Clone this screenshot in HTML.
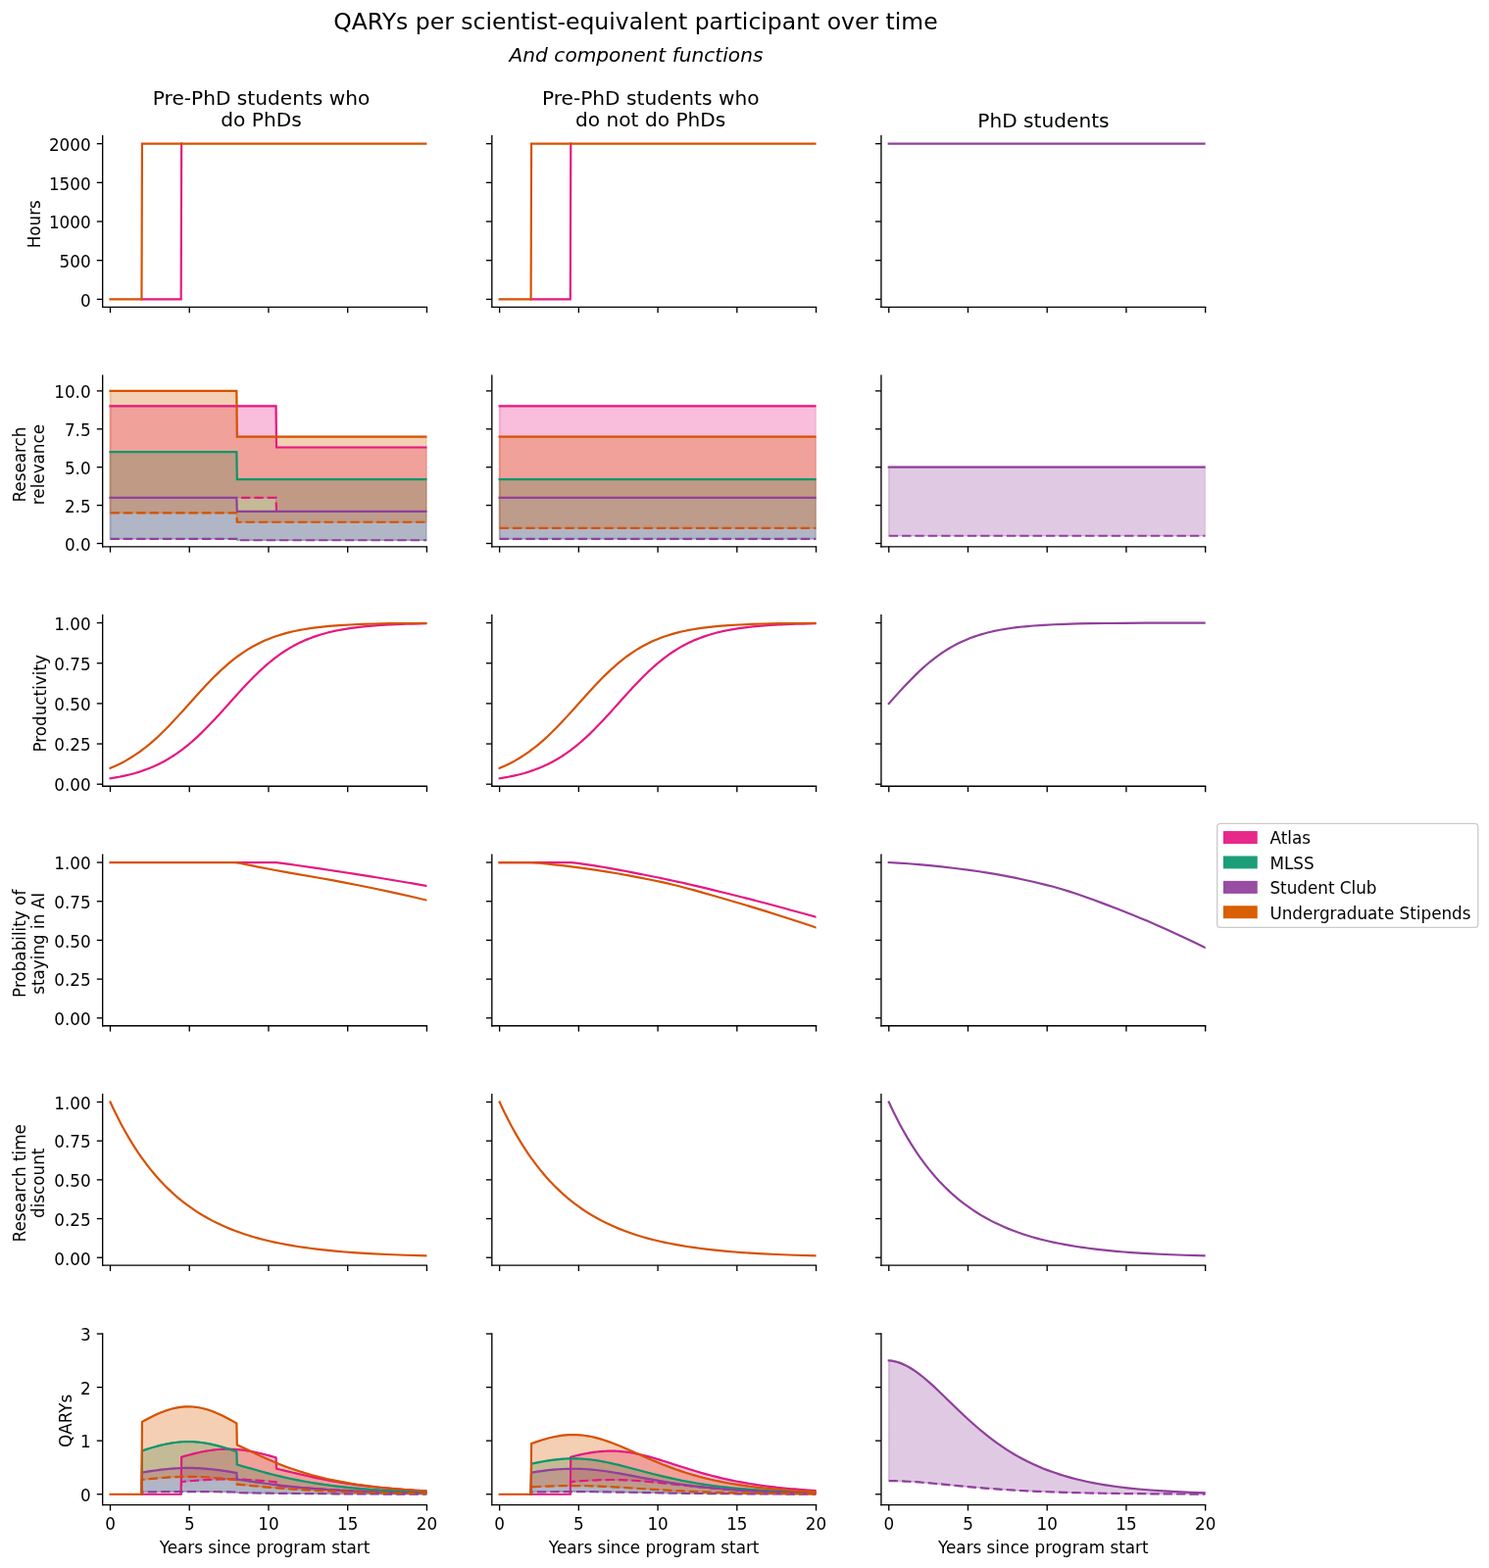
<!DOCTYPE html>
<html lang="en">
<head>
<meta charset="utf-8">
<title>QARYs per scientist-equivalent participant over time</title>
<style>
html, body { margin: 0; padding: 0; background: #ffffff; }
body { width: 1519px; height: 1600px; overflow: hidden; }
svg { display: block; }
text { font-family: "DejaVu Sans", "Liberation Sans", sans-serif; fill: #000000; }
text.a { font-size: 16.799px; }
text.b { font-size: 20.158px; }
text.c { font-size: 23.518px; }
text.i { font-style: italic; }
text.m { text-anchor: middle; }
text.e { text-anchor: end; }
</style>
</head>
<body>
<svg width="1519" height="1600" viewBox="0 0 1519 1600">
<g id="plots" transform="scale(1.679861)">

<g id="figure_1">
<g id="patch_1">
<path d="M 0 952.46 L 904.24 952.46 L 904.24 0 L 0 0 L 0 952.46 z" style="fill: none"/>
</g>
<g id="axes_1">
<g id="patch_2">
<path d="M 62.31 186.52 L 259.2 186.52 L 259.2 82.58 L 62.31 82.58 L 62.31 186.52 z" style="fill: none"/>
</g>
<g id="matplotlib.axis_1">
<g id="xtick_1">
<g id="line2d_1">
<defs>
<path id="m1504cfccaf" d="M 0 0 L 0 3.5" style="stroke: #000000; stroke-width: 0.8"/>
</defs>
<g>
<use href="#m1504cfccaf" x="66.97" y="186.521" style="stroke: #000000; stroke-width: 0.8"/>
</g>
</g>
</g>
<g id="xtick_2">
<g id="line2d_2">
<g>
<use href="#m1504cfccaf" x="115.028" y="186.521" style="stroke: #000000; stroke-width: 0.8"/>
</g>
</g>
</g>
<g id="xtick_3">
<g id="line2d_3">
<g>
<use href="#m1504cfccaf" x="163.085" y="186.521" style="stroke: #000000; stroke-width: 0.8"/>
</g>
</g>
</g>
<g id="xtick_4">
<g id="line2d_4">
<g>
<use href="#m1504cfccaf" x="211.143" y="186.521" style="stroke: #000000; stroke-width: 0.8"/>
</g>
</g>
</g>
<g id="xtick_5">
<g id="line2d_5">
<g>
<use href="#m1504cfccaf" x="259.2" y="186.521" style="stroke: #000000; stroke-width: 0.8"/>
</g>
</g>
</g>
</g>
<g id="matplotlib.axis_2">
<g id="ytick_1">
<g id="line2d_6">
<defs>
<path id="m5d545ce8f8" d="M 0 0 L -3.5 0" style="stroke: #000000; stroke-width: 0.8"/>
</defs>
<g>
<use href="#m5d545ce8f8" x="62.309" y="181.797" style="stroke: #000000; stroke-width: 0.8"/>
</g>
</g>
</g>
<g id="ytick_2">
<g id="line2d_7">
<g>
<use href="#m5d545ce8f8" x="62.309" y="158.173" style="stroke: #000000; stroke-width: 0.8"/>
</g>
</g>
</g>
<g id="ytick_3">
<g id="line2d_8">
<g>
<use href="#m5d545ce8f8" x="62.309" y="134.55" style="stroke: #000000; stroke-width: 0.8"/>
</g>
</g>
</g>
<g id="ytick_4">
<g id="line2d_9">
<g>
<use href="#m5d545ce8f8" x="62.309" y="110.926" style="stroke: #000000; stroke-width: 0.8"/>
</g>
</g>
</g>
<g id="ytick_5">
<g id="line2d_10">
<g>
<use href="#m5d545ce8f8" x="62.309" y="87.303" style="stroke: #000000; stroke-width: 0.8"/>
</g>
</g>
</g>
</g>
<g id="line2d_11">
<path d="M 86 181.8 L 86.29 181.8 L 109.93 181.8 L 110.22 87.3" clip-path="url(#p158fa50239)" style="fill: none; stroke: #e51881; stroke-width: 1.3; stroke-linecap: square"/>
</g>
<g id="line2d_12">
<path d="M 66.97 181.8 L 86 181.8 L 86.29 87.3 L 259.2 87.3" clip-path="url(#p158fa50239)" style="fill: none; stroke: #d65200; stroke-width: 1.3; stroke-linecap: square"/>
</g>
<g id="patch_3">
<path d="M 62.31 186.52 L 62.31 82.58" style="fill: none; stroke: #000000; stroke-width: 0.8; stroke-linejoin: miter; stroke-linecap: square"/>
</g>
<g id="patch_4">
<path d="M 62.31 186.52 L 259.2 186.52" style="fill: none; stroke: #000000; stroke-width: 0.8; stroke-linejoin: miter; stroke-linecap: square"/>
</g>
</g>
<g id="axes_2">
<g id="patch_5">
<path d="M 298.72 186.52 L 495.61 186.52 L 495.61 82.58 L 298.72 82.58 L 298.72 186.52 z" style="fill: none"/>
</g>
<g id="matplotlib.axis_3">
<g id="xtick_6">
<g id="line2d_13">
<g>
<use href="#m1504cfccaf" x="303.377" y="186.521" style="stroke: #000000; stroke-width: 0.8"/>
</g>
</g>
</g>
<g id="xtick_7">
<g id="line2d_14">
<g>
<use href="#m1504cfccaf" x="351.434" y="186.521" style="stroke: #000000; stroke-width: 0.8"/>
</g>
</g>
</g>
<g id="xtick_8">
<g id="line2d_15">
<g>
<use href="#m1504cfccaf" x="399.492" y="186.521" style="stroke: #000000; stroke-width: 0.8"/>
</g>
</g>
</g>
<g id="xtick_9">
<g id="line2d_16">
<g>
<use href="#m1504cfccaf" x="447.549" y="186.521" style="stroke: #000000; stroke-width: 0.8"/>
</g>
</g>
</g>
<g id="xtick_10">
<g id="line2d_17">
<g>
<use href="#m1504cfccaf" x="495.606" y="186.521" style="stroke: #000000; stroke-width: 0.8"/>
</g>
</g>
</g>
</g>
<g id="matplotlib.axis_4">
<g id="ytick_6">
<g id="line2d_18">
<g>
<use href="#m5d545ce8f8" x="298.715" y="181.797" style="stroke: #000000; stroke-width: 0.8"/>
</g>
</g>
</g>
<g id="ytick_7">
<g id="line2d_19">
<g>
<use href="#m5d545ce8f8" x="298.715" y="158.173" style="stroke: #000000; stroke-width: 0.8"/>
</g>
</g>
</g>
<g id="ytick_8">
<g id="line2d_20">
<g>
<use href="#m5d545ce8f8" x="298.715" y="134.55" style="stroke: #000000; stroke-width: 0.8"/>
</g>
</g>
</g>
<g id="ytick_9">
<g id="line2d_21">
<g>
<use href="#m5d545ce8f8" x="298.715" y="110.926" style="stroke: #000000; stroke-width: 0.8"/>
</g>
</g>
</g>
<g id="ytick_10">
<g id="line2d_22">
<g>
<use href="#m5d545ce8f8" x="298.715" y="87.303" style="stroke: #000000; stroke-width: 0.8"/>
</g>
</g>
</g>
</g>
<g id="line2d_23">
<path d="M 322.41 181.8 L 322.7 181.8 L 346.34 181.8 L 346.63 87.3" clip-path="url(#pc451fa3d04)" style="fill: none; stroke: #e51881; stroke-width: 1.3; stroke-linecap: square"/>
</g>
<g id="line2d_24">
<path d="M 303.38 181.8 L 322.41 181.8 L 322.7 87.3 L 495.61 87.3" clip-path="url(#pc451fa3d04)" style="fill: none; stroke: #d65200; stroke-width: 1.3; stroke-linecap: square"/>
</g>
<g id="patch_6">
<path d="M 298.72 186.52 L 298.72 82.58" style="fill: none; stroke: #000000; stroke-width: 0.8; stroke-linejoin: miter; stroke-linecap: square"/>
</g>
<g id="patch_7">
<path d="M 298.72 186.52 L 495.61 186.52" style="fill: none; stroke: #000000; stroke-width: 0.8; stroke-linejoin: miter; stroke-linecap: square"/>
</g>
</g>
<g id="axes_3">
<g id="patch_8">
<path d="M 535.12 186.52 L 732.01 186.52 L 732.01 82.58 L 535.12 82.58 L 535.12 186.52 z" style="fill: none"/>
</g>
<g id="matplotlib.axis_5">
<g id="xtick_11">
<g id="line2d_25">
<g>
<use href="#m1504cfccaf" x="539.783" y="186.521" style="stroke: #000000; stroke-width: 0.8"/>
</g>
</g>
</g>
<g id="xtick_12">
<g id="line2d_26">
<g>
<use href="#m1504cfccaf" x="587.841" y="186.521" style="stroke: #000000; stroke-width: 0.8"/>
</g>
</g>
</g>
<g id="xtick_13">
<g id="line2d_27">
<g>
<use href="#m1504cfccaf" x="635.898" y="186.521" style="stroke: #000000; stroke-width: 0.8"/>
</g>
</g>
</g>
<g id="xtick_14">
<g id="line2d_28">
<g>
<use href="#m1504cfccaf" x="683.955" y="186.521" style="stroke: #000000; stroke-width: 0.8"/>
</g>
</g>
</g>
<g id="xtick_15">
<g id="line2d_29">
<g>
<use href="#m1504cfccaf" x="732.013" y="186.521" style="stroke: #000000; stroke-width: 0.8"/>
</g>
</g>
</g>
</g>
<g id="matplotlib.axis_6">
<g id="ytick_11">
<g id="line2d_30">
<g>
<use href="#m5d545ce8f8" x="535.122" y="181.797" style="stroke: #000000; stroke-width: 0.8"/>
</g>
</g>
</g>
<g id="ytick_12">
<g id="line2d_31">
<g>
<use href="#m5d545ce8f8" x="535.122" y="158.173" style="stroke: #000000; stroke-width: 0.8"/>
</g>
</g>
</g>
<g id="ytick_13">
<g id="line2d_32">
<g>
<use href="#m5d545ce8f8" x="535.122" y="134.55" style="stroke: #000000; stroke-width: 0.8"/>
</g>
</g>
</g>
<g id="ytick_14">
<g id="line2d_33">
<g>
<use href="#m5d545ce8f8" x="535.122" y="110.926" style="stroke: #000000; stroke-width: 0.8"/>
</g>
</g>
</g>
<g id="ytick_15">
<g id="line2d_34">
<g>
<use href="#m5d545ce8f8" x="535.122" y="87.303" style="stroke: #000000; stroke-width: 0.8"/>
</g>
</g>
</g>
</g>
<g id="line2d_35">
<path d="M 539.78 87.3 L 732.01 87.3" clip-path="url(#p238a6cf841)" style="fill: none; stroke: #90409c; stroke-width: 1.3; stroke-linecap: square"/>
</g>
<g id="patch_9">
<path d="M 535.12 186.52 L 535.12 82.58" style="fill: none; stroke: #000000; stroke-width: 0.8; stroke-linejoin: miter; stroke-linecap: square"/>
</g>
<g id="patch_10">
<path d="M 535.12 186.52 L 732.01 186.52" style="fill: none; stroke: #000000; stroke-width: 0.8; stroke-linejoin: miter; stroke-linecap: square"/>
</g>
</g>
<g id="axes_4">
<g id="patch_11">
<path d="M 62.31 332.05 L 259.2 332.05 L 259.2 228.1 L 62.31 228.1 L 62.31 332.05 z" style="fill: none"/>
</g>
<g id="FillBetweenPolyCollection_1">
<defs>
<path id="m909a2ad7a2" d="M 66.97 -705.74 L 66.97 -650.15 L 143.67 -650.15 L 143.96 -650.15 L 167.6 -650.15 L 167.89 -641.81 L 259.2 -641.81 L 259.2 -680.72 L 259.2 -680.72 L 167.89 -680.72 L 167.6 -705.74 L 143.96 -705.74 L 143.67 -705.74 L 66.97 -705.74 z" style="stroke: #e7298a; stroke-opacity: 0.3"/>
</defs>
<g clip-path="url(#p7da8d2ac84)">
<use href="#m909a2ad7a2" x="0" y="952.46" style="fill: #e7298a; fill-opacity: 0.3; stroke: #e7298a; stroke-opacity: 0.3"/>
</g>
</g>
<g id="FillBetweenPolyCollection_2">
<defs>
<path id="mce12f00c1c" d="M 66.97 -677.94 L 66.97 -625.14 L 143.67 -625.14 L 143.96 -624.3 L 259.2 -624.3 L 259.2 -661.27 L 259.2 -661.27 L 143.96 -661.27 L 143.67 -677.94 L 66.97 -677.94 z" style="stroke: #1b9e77; stroke-opacity: 0.3"/>
</defs>
<g clip-path="url(#p7da8d2ac84)">
<use href="#mce12f00c1c" x="0" y="952.46" style="fill: #1b9e77; fill-opacity: 0.3; stroke: #1b9e77; stroke-opacity: 0.3"/>
</g>
</g>
<g id="FillBetweenPolyCollection_3">
<defs>
<path id="mf1f16266dc" d="M 66.97 -650.15 L 66.97 -625.14 L 143.67 -625.14 L 143.96 -624.3 L 259.2 -624.3 L 259.2 -641.81 L 259.2 -641.81 L 143.96 -641.81 L 143.67 -650.15 L 66.97 -650.15 z" style="stroke: #984ea3; stroke-opacity: 0.3"/>
</defs>
<g clip-path="url(#p7da8d2ac84)">
<use href="#mf1f16266dc" x="0" y="952.46" style="fill: #984ea3; fill-opacity: 0.3; stroke: #984ea3; stroke-opacity: 0.3"/>
</g>
</g>
<g id="FillBetweenPolyCollection_4">
<defs>
<path id="m8cf40005e6" d="M 66.97 -715 L 66.97 -640.89 L 143.67 -640.89 L 143.96 -635.33 L 259.2 -635.33 L 259.2 -687.21 L 259.2 -687.21 L 143.96 -687.21 L 143.67 -715 L 66.97 -715 z" style="stroke: #d95f02; stroke-opacity: 0.3"/>
</defs>
<g clip-path="url(#p7da8d2ac84)">
<use href="#m8cf40005e6" x="0" y="952.46" style="fill: #d95f02; fill-opacity: 0.3; stroke: #d95f02; stroke-opacity: 0.3"/>
</g>
</g>
<g id="matplotlib.axis_7">
<g id="xtick_16">
<g id="line2d_36">
<g>
<use href="#m1504cfccaf" x="66.97" y="332.046" style="stroke: #000000; stroke-width: 0.8"/>
</g>
</g>
</g>
<g id="xtick_17">
<g id="line2d_37">
<g>
<use href="#m1504cfccaf" x="115.028" y="332.046" style="stroke: #000000; stroke-width: 0.8"/>
</g>
</g>
</g>
<g id="xtick_18">
<g id="line2d_38">
<g>
<use href="#m1504cfccaf" x="163.085" y="332.046" style="stroke: #000000; stroke-width: 0.8"/>
</g>
</g>
</g>
<g id="xtick_19">
<g id="line2d_39">
<g>
<use href="#m1504cfccaf" x="211.143" y="332.046" style="stroke: #000000; stroke-width: 0.8"/>
</g>
</g>
</g>
<g id="xtick_20">
<g id="line2d_40">
<g>
<use href="#m1504cfccaf" x="259.2" y="332.046" style="stroke: #000000; stroke-width: 0.8"/>
</g>
</g>
</g>
</g>
<g id="matplotlib.axis_8">
<g id="ytick_16">
<g id="line2d_41">
<g>
<use href="#m5d545ce8f8" x="62.309" y="330.101" style="stroke: #000000; stroke-width: 0.8"/>
</g>
</g>
</g>
<g id="ytick_17">
<g id="line2d_42">
<g>
<use href="#m5d545ce8f8" x="62.309" y="306.941" style="stroke: #000000; stroke-width: 0.8"/>
</g>
</g>
</g>
<g id="ytick_18">
<g id="line2d_43">
<g>
<use href="#m5d545ce8f8" x="62.309" y="283.781" style="stroke: #000000; stroke-width: 0.8"/>
</g>
</g>
</g>
<g id="ytick_19">
<g id="line2d_44">
<g>
<use href="#m5d545ce8f8" x="62.309" y="260.62" style="stroke: #000000; stroke-width: 0.8"/>
</g>
</g>
</g>
<g id="ytick_20">
<g id="line2d_45">
<g>
<use href="#m5d545ce8f8" x="62.309" y="237.46" style="stroke: #000000; stroke-width: 0.8"/>
</g>
</g>
</g>
</g>
<g id="line2d_46">
<path d="M 66.97 246.72 L 143.67 246.72 L 143.96 246.72 L 167.6 246.72 L 167.89 271.74 L 259.2 271.74" clip-path="url(#p7da8d2ac84)" style="fill: none; stroke: #e51881; stroke-width: 1.3; stroke-linecap: square"/>
</g>
<g id="line2d_47">
<path d="M 143.67 302.31 L 143.96 302.31 L 167.6 302.31 L 167.89 310.65" clip-path="url(#p7da8d2ac84)" style="fill: none; stroke-dasharray: 5.55,2.4; stroke-dashoffset: 5.149653; stroke: #e51881; stroke-width: 1.3"/>
</g>
<g id="line2d_48">
<path d="M 66.97 274.52 L 143.67 274.52 L 143.96 291.19 L 259.2 291.19" clip-path="url(#p7da8d2ac84)" style="fill: none; stroke: #09966c; stroke-width: 1.3; stroke-linecap: square"/>
</g>
<g id="line2d_49">
<path d="M 66.97 302.31 L 143.67 302.31 L 143.96 310.65 L 259.2 310.65" clip-path="url(#p7da8d2ac84)" style="fill: none; stroke: #90409c; stroke-width: 1.3; stroke-linecap: square"/>
</g>
<g id="line2d_50">
<path d="M 66.97 327.32 L 143.67 327.32 L 143.96 328.16 L 259.2 328.16" clip-path="url(#p7da8d2ac84)" style="fill: none; stroke-dasharray: 5.55,2.4; stroke-dashoffset: 0; stroke: #90409c; stroke-width: 1.3"/>
</g>
<g id="line2d_51">
<path d="M 66.97 237.46 L 143.67 237.46 L 143.96 265.25 L 259.2 265.25" clip-path="url(#p7da8d2ac84)" style="fill: none; stroke: #d65200; stroke-width: 1.3; stroke-linecap: square"/>
</g>
<g id="line2d_52">
<path d="M 66.97 311.57 L 143.67 311.57 L 143.96 317.13 L 259.2 317.13" clip-path="url(#p7da8d2ac84)" style="fill: none; stroke-dasharray: 5.55,2.4; stroke-dashoffset: 0; stroke: #d65200; stroke-width: 1.3"/>
</g>
<g id="patch_12">
<path d="M 62.31 332.05 L 62.31 228.1" style="fill: none; stroke: #000000; stroke-width: 0.8; stroke-linejoin: miter; stroke-linecap: square"/>
</g>
<g id="patch_13">
<path d="M 62.31 332.05 L 259.2 332.05" style="fill: none; stroke: #000000; stroke-width: 0.8; stroke-linejoin: miter; stroke-linecap: square"/>
</g>
</g>
<g id="axes_5">
<g id="patch_14">
<path d="M 298.72 332.05 L 495.61 332.05 L 495.61 228.1 L 298.72 228.1 L 298.72 332.05 z" style="fill: none"/>
</g>
<g id="FillBetweenPolyCollection_5">
<defs>
<path id="m727d0d2990" d="M 303.38 -705.74 L 303.38 -650.15 L 495.61 -650.15 L 495.61 -705.74 L 495.61 -705.74 L 303.38 -705.74 z" style="stroke: #e7298a; stroke-opacity: 0.3"/>
</defs>
<g clip-path="url(#p51598fc935)">
<use href="#m727d0d2990" x="0" y="952.46" style="fill: #e7298a; fill-opacity: 0.3; stroke: #e7298a; stroke-opacity: 0.3"/>
</g>
</g>
<g id="FillBetweenPolyCollection_6">
<defs>
<path id="m2b611ce80b" d="M 303.38 -661.27 L 303.38 -625.14 L 495.61 -625.14 L 495.61 -661.27 L 495.61 -661.27 L 303.38 -661.27 z" style="stroke: #1b9e77; stroke-opacity: 0.3"/>
</defs>
<g clip-path="url(#p51598fc935)">
<use href="#m2b611ce80b" x="0" y="952.46" style="fill: #1b9e77; fill-opacity: 0.3; stroke: #1b9e77; stroke-opacity: 0.3"/>
</g>
</g>
<g id="FillBetweenPolyCollection_7">
<defs>
<path id="mea70c4d798" d="M 303.38 -650.15 L 303.38 -625.14 L 495.61 -625.14 L 495.61 -650.15 L 495.61 -650.15 L 303.38 -650.15 z" style="stroke: #984ea3; stroke-opacity: 0.3"/>
</defs>
<g clip-path="url(#p51598fc935)">
<use href="#mea70c4d798" x="0" y="952.46" style="fill: #984ea3; fill-opacity: 0.3; stroke: #984ea3; stroke-opacity: 0.3"/>
</g>
</g>
<g id="FillBetweenPolyCollection_8">
<defs>
<path id="m7025e87b0c" d="M 303.38 -687.21 L 303.38 -631.62 L 495.61 -631.62 L 495.61 -687.21 L 495.61 -687.21 L 303.38 -687.21 z" style="stroke: #d95f02; stroke-opacity: 0.3"/>
</defs>
<g clip-path="url(#p51598fc935)">
<use href="#m7025e87b0c" x="0" y="952.46" style="fill: #d95f02; fill-opacity: 0.3; stroke: #d95f02; stroke-opacity: 0.3"/>
</g>
</g>
<g id="matplotlib.axis_9">
<g id="xtick_21">
<g id="line2d_53">
<g>
<use href="#m1504cfccaf" x="303.377" y="332.046" style="stroke: #000000; stroke-width: 0.8"/>
</g>
</g>
</g>
<g id="xtick_22">
<g id="line2d_54">
<g>
<use href="#m1504cfccaf" x="351.434" y="332.046" style="stroke: #000000; stroke-width: 0.8"/>
</g>
</g>
</g>
<g id="xtick_23">
<g id="line2d_55">
<g>
<use href="#m1504cfccaf" x="399.492" y="332.046" style="stroke: #000000; stroke-width: 0.8"/>
</g>
</g>
</g>
<g id="xtick_24">
<g id="line2d_56">
<g>
<use href="#m1504cfccaf" x="447.549" y="332.046" style="stroke: #000000; stroke-width: 0.8"/>
</g>
</g>
</g>
<g id="xtick_25">
<g id="line2d_57">
<g>
<use href="#m1504cfccaf" x="495.606" y="332.046" style="stroke: #000000; stroke-width: 0.8"/>
</g>
</g>
</g>
</g>
<g id="matplotlib.axis_10">
<g id="ytick_21">
<g id="line2d_58">
<g>
<use href="#m5d545ce8f8" x="298.715" y="330.101" style="stroke: #000000; stroke-width: 0.8"/>
</g>
</g>
</g>
<g id="ytick_22">
<g id="line2d_59">
<g>
<use href="#m5d545ce8f8" x="298.715" y="306.941" style="stroke: #000000; stroke-width: 0.8"/>
</g>
</g>
</g>
<g id="ytick_23">
<g id="line2d_60">
<g>
<use href="#m5d545ce8f8" x="298.715" y="283.781" style="stroke: #000000; stroke-width: 0.8"/>
</g>
</g>
</g>
<g id="ytick_24">
<g id="line2d_61">
<g>
<use href="#m5d545ce8f8" x="298.715" y="260.62" style="stroke: #000000; stroke-width: 0.8"/>
</g>
</g>
</g>
<g id="ytick_25">
<g id="line2d_62">
<g>
<use href="#m5d545ce8f8" x="298.715" y="237.46" style="stroke: #000000; stroke-width: 0.8"/>
</g>
</g>
</g>
</g>
<g id="line2d_63">
<path d="M 303.38 246.72 L 495.61 246.72" clip-path="url(#p51598fc935)" style="fill: none; stroke: #e51881; stroke-width: 1.3; stroke-linecap: square"/>
</g>
<g id="line2d_64">
<path d="M 303.38 291.19 L 495.61 291.19" clip-path="url(#p51598fc935)" style="fill: none; stroke: #09966c; stroke-width: 1.3; stroke-linecap: square"/>
</g>
<g id="line2d_65">
<path d="M 303.38 302.31 L 495.61 302.31" clip-path="url(#p51598fc935)" style="fill: none; stroke: #90409c; stroke-width: 1.3; stroke-linecap: square"/>
</g>
<g id="line2d_66">
<path d="M 303.38 327.32 L 495.61 327.32" clip-path="url(#p51598fc935)" style="fill: none; stroke-dasharray: 5.55,2.4; stroke-dashoffset: 0; stroke: #90409c; stroke-width: 1.3"/>
</g>
<g id="line2d_67">
<path d="M 303.38 265.25 L 495.61 265.25" clip-path="url(#p51598fc935)" style="fill: none; stroke: #d65200; stroke-width: 1.3; stroke-linecap: square"/>
</g>
<g id="line2d_68">
<path d="M 303.38 320.84 L 495.61 320.84" clip-path="url(#p51598fc935)" style="fill: none; stroke-dasharray: 5.55,2.4; stroke-dashoffset: 0; stroke: #d65200; stroke-width: 1.3"/>
</g>
<g id="patch_15">
<path d="M 298.72 332.05 L 298.72 228.1" style="fill: none; stroke: #000000; stroke-width: 0.8; stroke-linejoin: miter; stroke-linecap: square"/>
</g>
<g id="patch_16">
<path d="M 298.72 332.05 L 495.61 332.05" style="fill: none; stroke: #000000; stroke-width: 0.8; stroke-linejoin: miter; stroke-linecap: square"/>
</g>
</g>
<g id="axes_6">
<g id="patch_17">
<path d="M 535.12 332.05 L 732.01 332.05 L 732.01 228.1 L 535.12 228.1 L 535.12 332.05 z" style="fill: none"/>
</g>
<g id="FillBetweenPolyCollection_9">
<defs>
<path id="m41d954519f" d="M 539.78 -668.68 L 539.78 -626.99 L 732.01 -626.99 L 732.01 -668.68 L 732.01 -668.68 L 539.78 -668.68 z" style="stroke: #984ea3; stroke-opacity: 0.3"/>
</defs>
<g clip-path="url(#p588491ed07)">
<use href="#m41d954519f" x="0" y="952.46" style="fill: #984ea3; fill-opacity: 0.3; stroke: #984ea3; stroke-opacity: 0.3"/>
</g>
</g>
<g id="matplotlib.axis_11">
<g id="xtick_26">
<g id="line2d_69">
<g>
<use href="#m1504cfccaf" x="539.783" y="332.046" style="stroke: #000000; stroke-width: 0.8"/>
</g>
</g>
</g>
<g id="xtick_27">
<g id="line2d_70">
<g>
<use href="#m1504cfccaf" x="587.841" y="332.046" style="stroke: #000000; stroke-width: 0.8"/>
</g>
</g>
</g>
<g id="xtick_28">
<g id="line2d_71">
<g>
<use href="#m1504cfccaf" x="635.898" y="332.046" style="stroke: #000000; stroke-width: 0.8"/>
</g>
</g>
</g>
<g id="xtick_29">
<g id="line2d_72">
<g>
<use href="#m1504cfccaf" x="683.955" y="332.046" style="stroke: #000000; stroke-width: 0.8"/>
</g>
</g>
</g>
<g id="xtick_30">
<g id="line2d_73">
<g>
<use href="#m1504cfccaf" x="732.013" y="332.046" style="stroke: #000000; stroke-width: 0.8"/>
</g>
</g>
</g>
</g>
<g id="matplotlib.axis_12">
<g id="ytick_26">
<g id="line2d_74">
<g>
<use href="#m5d545ce8f8" x="535.122" y="330.101" style="stroke: #000000; stroke-width: 0.8"/>
</g>
</g>
</g>
<g id="ytick_27">
<g id="line2d_75">
<g>
<use href="#m5d545ce8f8" x="535.122" y="306.941" style="stroke: #000000; stroke-width: 0.8"/>
</g>
</g>
</g>
<g id="ytick_28">
<g id="line2d_76">
<g>
<use href="#m5d545ce8f8" x="535.122" y="283.781" style="stroke: #000000; stroke-width: 0.8"/>
</g>
</g>
</g>
<g id="ytick_29">
<g id="line2d_77">
<g>
<use href="#m5d545ce8f8" x="535.122" y="260.62" style="stroke: #000000; stroke-width: 0.8"/>
</g>
</g>
</g>
<g id="ytick_30">
<g id="line2d_78">
<g>
<use href="#m5d545ce8f8" x="535.122" y="237.46" style="stroke: #000000; stroke-width: 0.8"/>
</g>
</g>
</g>
</g>
<g id="line2d_79">
<path d="M 539.78 283.78 L 732.01 283.78" clip-path="url(#p588491ed07)" style="fill: none; stroke: #90409c; stroke-width: 1.3; stroke-linecap: square"/>
</g>
<g id="line2d_80">
<path d="M 539.78 325.47 L 732.01 325.47" clip-path="url(#p588491ed07)" style="fill: none; stroke-dasharray: 5.55,2.4; stroke-dashoffset: 0; stroke: #90409c; stroke-width: 1.3"/>
</g>
<g id="patch_18">
<path d="M 535.12 332.05 L 535.12 228.1" style="fill: none; stroke: #000000; stroke-width: 0.8; stroke-linejoin: miter; stroke-linecap: square"/>
</g>
<g id="patch_19">
<path d="M 535.12 332.05 L 732.01 332.05" style="fill: none; stroke: #000000; stroke-width: 0.8; stroke-linejoin: miter; stroke-linecap: square"/>
</g>
</g>
<g id="axes_7">
<g id="patch_20">
<path d="M 62.31 477.57 L 259.2 477.57 L 259.2 373.63 L 62.31 373.63 L 62.31 477.57 z" style="fill: none"/>
</g>
<g id="matplotlib.axis_13">
<g id="xtick_31">
<g id="line2d_81">
<g>
<use href="#m1504cfccaf" x="66.97" y="477.572" style="stroke: #000000; stroke-width: 0.8"/>
</g>
</g>
</g>
<g id="xtick_32">
<g id="line2d_82">
<g>
<use href="#m1504cfccaf" x="115.028" y="477.572" style="stroke: #000000; stroke-width: 0.8"/>
</g>
</g>
</g>
<g id="xtick_33">
<g id="line2d_83">
<g>
<use href="#m1504cfccaf" x="163.085" y="477.572" style="stroke: #000000; stroke-width: 0.8"/>
</g>
</g>
</g>
<g id="xtick_34">
<g id="line2d_84">
<g>
<use href="#m1504cfccaf" x="211.143" y="477.572" style="stroke: #000000; stroke-width: 0.8"/>
</g>
</g>
</g>
<g id="xtick_35">
<g id="line2d_85">
<g>
<use href="#m1504cfccaf" x="259.2" y="477.572" style="stroke: #000000; stroke-width: 0.8"/>
</g>
</g>
</g>
</g>
<g id="matplotlib.axis_14">
<g id="ytick_31">
<g id="line2d_86">
<g>
<use href="#m5d545ce8f8" x="62.309" y="476.347" style="stroke: #000000; stroke-width: 0.8"/>
</g>
</g>
</g>
<g id="ytick_32">
<g id="line2d_87">
<g>
<use href="#m5d545ce8f8" x="62.309" y="451.848" style="stroke: #000000; stroke-width: 0.8"/>
</g>
</g>
</g>
<g id="ytick_33">
<g id="line2d_88">
<g>
<use href="#m5d545ce8f8" x="62.309" y="427.349" style="stroke: #000000; stroke-width: 0.8"/>
</g>
</g>
</g>
<g id="ytick_34">
<g id="line2d_89">
<g>
<use href="#m5d545ce8f8" x="62.309" y="402.851" style="stroke: #000000; stroke-width: 0.8"/>
</g>
</g>
</g>
<g id="ytick_35">
<g id="line2d_90">
<g>
<use href="#m5d545ce8f8" x="62.309" y="378.352" style="stroke: #000000; stroke-width: 0.8"/>
</g>
</g>
</g>
</g>
<g id="line2d_91">
<path d="M 66.97 472.85 L 70.14 472.32 L 73.03 471.78 L 73.31 471.72 L 74.76 471.43 L 76.2 471.11 L 79.08 470.41 L 81.96 469.64 L 84.56 468.86 L 84.85 468.76 L 87.15 467.99 L 87.73 467.79 L 89.75 467.04 L 90.61 466.7 L 92.34 465.99 L 93.21 465.62 L 94.65 464.97 L 96.09 464.29 L 97.25 463.72 L 98.98 462.83 L 99.55 462.52 L 101.86 461.22 L 102.15 461.05 L 104.17 459.82 L 105.03 459.27 L 106.47 458.32 L 108.2 457.13 L 108.78 456.72 L 110.51 455.44 L 111.38 454.79 L 112.53 453.89 L 114.26 452.49 L 116.28 450.78 L 118.01 449.26 L 120.03 447.42 L 120.31 447.15 L 122.04 445.5 L 124.06 443.52 L 125.22 442.35 L 127.52 439.98 L 128.1 439.37 L 130.69 436.6 L 131.56 435.67 L 133.29 433.77 L 135.31 431.54 L 135.6 431.22 L 138.77 427.67 L 141.65 424.45 L 144.25 421.56 L 144.53 421.24 L 146.84 418.72 L 147.42 418.1 L 149.44 415.94 L 150.3 415.02 L 151.74 413.52 L 152.03 413.23 L 153.47 411.76 L 154.63 410.61 L 156.36 408.92 L 157.22 408.1 L 157.8 407.55 L 159.53 405.96 L 161.26 404.42 L 162.41 403.42 L 163.28 402.69 L 165.01 401.27 L 167.03 399.69 L 167.89 399.04 L 169.04 398.19 L 170.49 397.17 L 171.06 396.77 L 173.08 395.43 L 175.39 393.99 L 175.96 393.65 L 177.41 392.82 L 178.85 392.02 L 179.71 391.57 L 181.73 390.55 L 182.02 390.41 L 183.17 389.86 L 184.33 389.33 L 184.9 389.08 L 186.63 388.35 L 188.36 387.66 L 189.23 387.33 L 190.09 387.01 L 191.82 386.41 L 194.42 385.57 L 195.28 385.31 L 197.01 384.82 L 199.03 384.28 L 199.9 384.07 L 201.05 383.79 L 203.07 383.33 L 205.95 382.75 L 207.11 382.53 L 211.43 381.81 L 212.3 381.68 L 216.04 381.17 L 219.5 380.77 L 220.66 380.65 L 225.85 380.17 L 227.58 380.03 L 231.33 379.77 L 236.52 379.48 L 237.38 379.43 L 243.73 379.16 L 246.9 379.05 L 250.93 378.94 L 259.2 378.75" clip-path="url(#p88c38da907)" style="fill: none; stroke: #e51881; stroke-width: 1.3; stroke-linecap: square"/>
</g>
<g id="line2d_92">
<path d="M 66.97 466.55 L 70.14 465.19 L 73.03 463.82 L 74.76 462.93 L 76.2 462.15 L 79.08 460.47 L 81.96 458.64 L 84.85 456.65 L 87.73 454.49 L 90.61 452.17 L 93.21 449.94 L 96.09 447.33 L 98.98 444.56 L 102.15 441.37 L 105.03 438.35 L 108.2 434.93 L 111.38 431.43 L 120.31 421.46 L 125.22 416.14 L 128.1 413.13 L 130.69 410.51 L 133.29 408.01 L 135.6 405.87 L 138.77 403.09 L 141.65 400.74 L 144.53 398.54 L 147.42 396.51 L 150.3 394.64 L 151.74 393.76 L 153.47 392.76 L 156.36 391.22 L 157.8 390.5 L 159.53 389.68 L 161.26 388.91 L 163.28 388.07 L 165.01 387.4 L 167.03 386.67 L 169.04 386 L 171.06 385.37 L 173.08 384.79 L 175.39 384.19 L 177.41 383.7 L 179.71 383.19 L 182.02 382.73 L 184.33 382.31 L 186.63 381.93 L 189.23 381.54 L 191.82 381.19 L 194.42 380.88 L 199.9 380.33 L 205.95 379.86 L 212.3 379.49 L 219.5 379.17 L 227.58 378.92 L 236.52 378.73 L 246.9 378.59 L 259.2 378.49" clip-path="url(#p88c38da907)" style="fill: none; stroke: #d65200; stroke-width: 1.3; stroke-linecap: square"/>
</g>
<g id="patch_21">
<path d="M 62.31 477.57 L 62.31 373.63" style="fill: none; stroke: #000000; stroke-width: 0.8; stroke-linejoin: miter; stroke-linecap: square"/>
</g>
<g id="patch_22">
<path d="M 62.31 477.57 L 259.2 477.57" style="fill: none; stroke: #000000; stroke-width: 0.8; stroke-linejoin: miter; stroke-linecap: square"/>
</g>
</g>
<g id="axes_8">
<g id="patch_23">
<path d="M 298.72 477.57 L 495.61 477.57 L 495.61 373.63 L 298.72 373.63 L 298.72 477.57 z" style="fill: none"/>
</g>
<g id="matplotlib.axis_15">
<g id="xtick_36">
<g id="line2d_93">
<g>
<use href="#m1504cfccaf" x="303.377" y="477.572" style="stroke: #000000; stroke-width: 0.8"/>
</g>
</g>
</g>
<g id="xtick_37">
<g id="line2d_94">
<g>
<use href="#m1504cfccaf" x="351.434" y="477.572" style="stroke: #000000; stroke-width: 0.8"/>
</g>
</g>
</g>
<g id="xtick_38">
<g id="line2d_95">
<g>
<use href="#m1504cfccaf" x="399.492" y="477.572" style="stroke: #000000; stroke-width: 0.8"/>
</g>
</g>
</g>
<g id="xtick_39">
<g id="line2d_96">
<g>
<use href="#m1504cfccaf" x="447.549" y="477.572" style="stroke: #000000; stroke-width: 0.8"/>
</g>
</g>
</g>
<g id="xtick_40">
<g id="line2d_97">
<g>
<use href="#m1504cfccaf" x="495.606" y="477.572" style="stroke: #000000; stroke-width: 0.8"/>
</g>
</g>
</g>
</g>
<g id="matplotlib.axis_16">
<g id="ytick_36">
<g id="line2d_98">
<g>
<use href="#m5d545ce8f8" x="298.715" y="476.347" style="stroke: #000000; stroke-width: 0.8"/>
</g>
</g>
</g>
<g id="ytick_37">
<g id="line2d_99">
<g>
<use href="#m5d545ce8f8" x="298.715" y="451.848" style="stroke: #000000; stroke-width: 0.8"/>
</g>
</g>
</g>
<g id="ytick_38">
<g id="line2d_100">
<g>
<use href="#m5d545ce8f8" x="298.715" y="427.349" style="stroke: #000000; stroke-width: 0.8"/>
</g>
</g>
</g>
<g id="ytick_39">
<g id="line2d_101">
<g>
<use href="#m5d545ce8f8" x="298.715" y="402.851" style="stroke: #000000; stroke-width: 0.8"/>
</g>
</g>
</g>
<g id="ytick_40">
<g id="line2d_102">
<g>
<use href="#m5d545ce8f8" x="298.715" y="378.352" style="stroke: #000000; stroke-width: 0.8"/>
</g>
</g>
</g>
</g>
<g id="line2d_103">
<path d="M 303.38 472.85 L 306.55 472.32 L 309.43 471.78 L 309.72 471.72 L 311.16 471.43 L 312.6 471.11 L 315.49 470.41 L 318.37 469.64 L 320.97 468.86 L 321.25 468.76 L 323.56 467.99 L 324.14 467.79 L 326.16 467.04 L 327.02 466.7 L 328.75 465.99 L 329.62 465.62 L 331.06 464.97 L 332.5 464.29 L 333.65 463.72 L 335.38 462.83 L 335.96 462.52 L 338.27 461.22 L 338.55 461.05 L 340.57 459.82 L 341.44 459.27 L 342.88 458.32 L 344.61 457.13 L 345.19 456.72 L 346.92 455.44 L 347.78 454.79 L 348.94 453.89 L 350.67 452.49 L 352.68 450.78 L 354.41 449.26 L 356.43 447.42 L 356.72 447.15 L 358.45 445.5 L 360.47 443.52 L 361.62 442.35 L 363.93 439.98 L 364.51 439.37 L 367.1 436.6 L 367.97 435.67 L 369.7 433.77 L 371.71 431.54 L 372 431.22 L 375.17 427.67 L 378.06 424.45 L 380.65 421.56 L 380.94 421.24 L 383.25 418.72 L 383.82 418.1 L 385.84 415.94 L 386.71 415.02 L 388.15 413.52 L 388.44 413.23 L 389.88 411.76 L 391.03 410.61 L 392.76 408.92 L 393.63 408.1 L 394.21 407.55 L 395.94 405.96 L 397.67 404.42 L 398.82 403.42 L 399.68 402.69 L 401.41 401.27 L 403.43 399.69 L 404.3 399.04 L 405.45 398.19 L 406.89 397.17 L 407.47 396.77 L 409.49 395.43 L 411.79 393.99 L 412.37 393.65 L 413.81 392.82 L 415.25 392.02 L 416.12 391.57 L 418.14 390.55 L 418.43 390.41 L 419.58 389.86 L 420.73 389.33 L 421.31 389.08 L 423.04 388.35 L 424.77 387.66 L 425.63 387.33 L 426.5 387.01 L 428.23 386.41 L 430.83 385.57 L 431.69 385.31 L 433.42 384.82 L 435.44 384.28 L 436.3 384.07 L 437.46 383.79 L 439.48 383.33 L 442.36 382.75 L 443.51 382.53 L 447.84 381.81 L 448.7 381.68 L 452.45 381.17 L 455.91 380.77 L 457.06 380.65 L 462.25 380.17 L 463.98 380.03 L 467.73 379.77 L 472.92 379.48 L 473.79 379.43 L 480.13 379.16 L 483.3 379.05 L 487.34 378.94 L 495.61 378.75" clip-path="url(#pad8b018f4e)" style="fill: none; stroke: #e51881; stroke-width: 1.3; stroke-linecap: square"/>
</g>
<g id="line2d_104">
<path d="M 303.38 466.55 L 306.55 465.19 L 309.43 463.82 L 311.16 462.93 L 312.6 462.15 L 315.49 460.47 L 318.37 458.64 L 321.25 456.65 L 324.14 454.49 L 327.02 452.17 L 329.62 449.94 L 332.5 447.33 L 335.38 444.56 L 338.55 441.37 L 341.44 438.35 L 344.61 434.93 L 347.78 431.43 L 356.72 421.46 L 361.62 416.14 L 364.51 413.13 L 367.1 410.51 L 369.7 408.01 L 372 405.87 L 375.17 403.09 L 378.06 400.74 L 380.94 398.54 L 383.82 396.51 L 386.71 394.64 L 388.15 393.76 L 389.88 392.76 L 392.76 391.22 L 394.21 390.5 L 395.94 389.68 L 397.67 388.91 L 399.68 388.07 L 401.41 387.4 L 403.43 386.67 L 405.45 386 L 407.47 385.37 L 409.49 384.79 L 411.79 384.19 L 413.81 383.7 L 416.12 383.19 L 418.43 382.73 L 420.73 382.31 L 423.04 381.93 L 425.63 381.54 L 428.23 381.19 L 430.83 380.88 L 436.3 380.33 L 442.36 379.86 L 448.7 379.49 L 455.91 379.17 L 463.98 378.92 L 472.92 378.73 L 483.3 378.59 L 495.61 378.49" clip-path="url(#pad8b018f4e)" style="fill: none; stroke: #d65200; stroke-width: 1.3; stroke-linecap: square"/>
</g>
<g id="patch_24">
<path d="M 298.72 477.57 L 298.72 373.63" style="fill: none; stroke: #000000; stroke-width: 0.8; stroke-linejoin: miter; stroke-linecap: square"/>
</g>
<g id="patch_25">
<path d="M 298.72 477.57 L 495.61 477.57" style="fill: none; stroke: #000000; stroke-width: 0.8; stroke-linejoin: miter; stroke-linecap: square"/>
</g>
</g>
<g id="axes_9">
<g id="patch_26">
<path d="M 535.12 477.57 L 732.01 477.57 L 732.01 373.63 L 535.12 373.63 L 535.12 477.57 z" style="fill: none"/>
</g>
<g id="matplotlib.axis_17">
<g id="xtick_41">
<g id="line2d_105">
<g>
<use href="#m1504cfccaf" x="539.783" y="477.572" style="stroke: #000000; stroke-width: 0.8"/>
</g>
</g>
</g>
<g id="xtick_42">
<g id="line2d_106">
<g>
<use href="#m1504cfccaf" x="587.841" y="477.572" style="stroke: #000000; stroke-width: 0.8"/>
</g>
</g>
</g>
<g id="xtick_43">
<g id="line2d_107">
<g>
<use href="#m1504cfccaf" x="635.898" y="477.572" style="stroke: #000000; stroke-width: 0.8"/>
</g>
</g>
</g>
<g id="xtick_44">
<g id="line2d_108">
<g>
<use href="#m1504cfccaf" x="683.955" y="477.572" style="stroke: #000000; stroke-width: 0.8"/>
</g>
</g>
</g>
<g id="xtick_45">
<g id="line2d_109">
<g>
<use href="#m1504cfccaf" x="732.013" y="477.572" style="stroke: #000000; stroke-width: 0.8"/>
</g>
</g>
</g>
</g>
<g id="matplotlib.axis_18">
<g id="ytick_41">
<g id="line2d_110">
<g>
<use href="#m5d545ce8f8" x="535.122" y="476.347" style="stroke: #000000; stroke-width: 0.8"/>
</g>
</g>
</g>
<g id="ytick_42">
<g id="line2d_111">
<g>
<use href="#m5d545ce8f8" x="535.122" y="451.848" style="stroke: #000000; stroke-width: 0.8"/>
</g>
</g>
</g>
<g id="ytick_43">
<g id="line2d_112">
<g>
<use href="#m5d545ce8f8" x="535.122" y="427.349" style="stroke: #000000; stroke-width: 0.8"/>
</g>
</g>
</g>
<g id="ytick_44">
<g id="line2d_113">
<g>
<use href="#m5d545ce8f8" x="535.122" y="402.851" style="stroke: #000000; stroke-width: 0.8"/>
</g>
</g>
</g>
<g id="ytick_45">
<g id="line2d_114">
<g>
<use href="#m5d545ce8f8" x="535.122" y="378.352" style="stroke: #000000; stroke-width: 0.8"/>
</g>
</g>
</g>
</g>
<g id="line2d_115">
<path d="M 539.78 427.35 L 545.26 421.24 L 549.3 416.86 L 553.05 412.93 L 556.51 409.48 L 558.24 407.82 L 559.97 406.22 L 561.7 404.67 L 563.43 403.17 L 565.16 401.74 L 566.89 400.36 L 568.62 399.04 L 570.06 397.98 L 571.79 396.77 L 573.52 395.62 L 575.25 394.52 L 576.98 393.48 L 578.71 392.5 L 580.44 391.57 L 582.17 390.69 L 584.19 389.73 L 585.92 388.95 L 587.94 388.11 L 589.67 387.44 L 591.69 386.71 L 593.7 386.03 L 595.72 385.4 L 597.74 384.82 L 599.76 384.28 L 601.78 383.79 L 603.8 383.33 L 605.81 382.92 L 608.12 382.48 L 610.43 382.08 L 612.73 381.72 L 617.35 381.1 L 622.25 380.56 L 627.73 380.08 L 633.78 379.67 L 640.13 379.34 L 646.76 379.08 L 654.26 378.87 L 662.33 378.71 L 671.85 378.59 L 682.51 378.5 L 695.49 378.43 L 732.01 378.37" clip-path="url(#pb0b2972590)" style="fill: none; stroke: #90409c; stroke-width: 1.3; stroke-linecap: square"/>
</g>
<g id="patch_27">
<path d="M 535.12 477.57 L 535.12 373.63" style="fill: none; stroke: #000000; stroke-width: 0.8; stroke-linejoin: miter; stroke-linecap: square"/>
</g>
<g id="patch_28">
<path d="M 535.12 477.57 L 732.01 477.57" style="fill: none; stroke: #000000; stroke-width: 0.8; stroke-linejoin: miter; stroke-linecap: square"/>
</g>
</g>
<g id="axes_10">
<g id="patch_29">
<path d="M 62.31 623.1 L 259.2 623.1 L 259.2 519.15 L 62.31 519.15 L 62.31 623.1 z" style="fill: none"/>
</g>
<g id="matplotlib.axis_19">
<g id="xtick_46">
<g id="line2d_116">
<g>
<use href="#m1504cfccaf" x="66.97" y="623.097" style="stroke: #000000; stroke-width: 0.8"/>
</g>
</g>
</g>
<g id="xtick_47">
<g id="line2d_117">
<g>
<use href="#m1504cfccaf" x="115.028" y="623.097" style="stroke: #000000; stroke-width: 0.8"/>
</g>
</g>
</g>
<g id="xtick_48">
<g id="line2d_118">
<g>
<use href="#m1504cfccaf" x="163.085" y="623.097" style="stroke: #000000; stroke-width: 0.8"/>
</g>
</g>
</g>
<g id="xtick_49">
<g id="line2d_119">
<g>
<use href="#m1504cfccaf" x="211.143" y="623.097" style="stroke: #000000; stroke-width: 0.8"/>
</g>
</g>
</g>
<g id="xtick_50">
<g id="line2d_120">
<g>
<use href="#m1504cfccaf" x="259.2" y="623.097" style="stroke: #000000; stroke-width: 0.8"/>
</g>
</g>
</g>
</g>
<g id="matplotlib.axis_20">
<g id="ytick_46">
<g id="line2d_121">
<g>
<use href="#m5d545ce8f8" x="62.309" y="618.372" style="stroke: #000000; stroke-width: 0.8"/>
</g>
</g>
</g>
<g id="ytick_47">
<g id="line2d_122">
<g>
<use href="#m5d545ce8f8" x="62.309" y="594.749" style="stroke: #000000; stroke-width: 0.8"/>
</g>
</g>
</g>
<g id="ytick_48">
<g id="line2d_123">
<g>
<use href="#m5d545ce8f8" x="62.309" y="571.125" style="stroke: #000000; stroke-width: 0.8"/>
</g>
</g>
</g>
<g id="ytick_49">
<g id="line2d_124">
<g>
<use href="#m5d545ce8f8" x="62.309" y="547.502" style="stroke: #000000; stroke-width: 0.8"/>
</g>
</g>
</g>
<g id="ytick_50">
<g id="line2d_125">
<g>
<use href="#m5d545ce8f8" x="62.309" y="523.878" style="stroke: #000000; stroke-width: 0.8"/>
</g>
</g>
</g>
</g>
<g id="line2d_126">
<path d="M 143.67 523.88 L 143.96 523.88 L 156.65 523.88 L 161.84 523.88 L 166.45 523.88 L 167.89 523.88 L 175.96 525 L 179.42 525.49 L 191.25 527.2 L 194.42 527.67 L 201.63 528.75 L 203.07 528.97 L 208.55 529.81 L 214.89 530.79 L 216.62 531.06 L 227 532.71 L 228.44 532.95 L 238.25 534.55 L 239.11 534.69 L 248.92 536.35 L 249.49 536.45 L 259.2 538.15" clip-path="url(#pf7be535a80)" style="fill: none; stroke: #e51881; stroke-width: 1.3; stroke-linecap: square"/>
</g>
<g id="line2d_127">
<path d="M 66.97 523.88 L 143.67 523.88 L 143.96 523.9 L 156.65 526.57 L 161.84 527.6 L 166.45 528.49 L 175.96 530.21 L 194.42 533.39 L 201.63 534.66 L 208.55 535.94 L 216.62 537.53 L 228.44 539.93 L 239.11 542.21 L 249.49 544.54 L 259.2 546.84" clip-path="url(#pf7be535a80)" style="fill: none; stroke: #d65200; stroke-width: 1.3; stroke-linecap: square"/>
</g>
<g id="patch_30">
<path d="M 62.31 623.1 L 62.31 519.15" style="fill: none; stroke: #000000; stroke-width: 0.8; stroke-linejoin: miter; stroke-linecap: square"/>
</g>
<g id="patch_31">
<path d="M 62.31 623.1 L 259.2 623.1" style="fill: none; stroke: #000000; stroke-width: 0.8; stroke-linejoin: miter; stroke-linecap: square"/>
</g>
</g>
<g id="axes_11">
<g id="patch_32">
<path d="M 298.72 623.1 L 495.61 623.1 L 495.61 519.15 L 298.72 519.15 L 298.72 623.1 z" style="fill: none"/>
</g>
<g id="matplotlib.axis_21">
<g id="xtick_51">
<g id="line2d_128">
<g>
<use href="#m1504cfccaf" x="303.377" y="623.097" style="stroke: #000000; stroke-width: 0.8"/>
</g>
</g>
</g>
<g id="xtick_52">
<g id="line2d_129">
<g>
<use href="#m1504cfccaf" x="351.434" y="623.097" style="stroke: #000000; stroke-width: 0.8"/>
</g>
</g>
</g>
<g id="xtick_53">
<g id="line2d_130">
<g>
<use href="#m1504cfccaf" x="399.492" y="623.097" style="stroke: #000000; stroke-width: 0.8"/>
</g>
</g>
</g>
<g id="xtick_54">
<g id="line2d_131">
<g>
<use href="#m1504cfccaf" x="447.549" y="623.097" style="stroke: #000000; stroke-width: 0.8"/>
</g>
</g>
</g>
<g id="xtick_55">
<g id="line2d_132">
<g>
<use href="#m1504cfccaf" x="495.606" y="623.097" style="stroke: #000000; stroke-width: 0.8"/>
</g>
</g>
</g>
</g>
<g id="matplotlib.axis_22">
<g id="ytick_51">
<g id="line2d_133">
<g>
<use href="#m5d545ce8f8" x="298.715" y="618.372" style="stroke: #000000; stroke-width: 0.8"/>
</g>
</g>
</g>
<g id="ytick_52">
<g id="line2d_134">
<g>
<use href="#m5d545ce8f8" x="298.715" y="594.749" style="stroke: #000000; stroke-width: 0.8"/>
</g>
</g>
</g>
<g id="ytick_53">
<g id="line2d_135">
<g>
<use href="#m5d545ce8f8" x="298.715" y="571.125" style="stroke: #000000; stroke-width: 0.8"/>
</g>
</g>
</g>
<g id="ytick_54">
<g id="line2d_136">
<g>
<use href="#m5d545ce8f8" x="298.715" y="547.502" style="stroke: #000000; stroke-width: 0.8"/>
</g>
</g>
</g>
<g id="ytick_55">
<g id="line2d_137">
<g>
<use href="#m5d545ce8f8" x="298.715" y="523.878" style="stroke: #000000; stroke-width: 0.8"/>
</g>
</g>
</g>
</g>
<g id="line2d_138">
<path d="M 303.38 523.88 L 322.7 523.88 L 327.31 523.88 L 331.92 523.88 L 336.54 523.88 L 341.44 523.88 L 346.63 523.88 L 348.36 524.07 L 350.95 524.38 L 354.99 524.94 L 356.14 525.11 L 361.33 525.9 L 361.91 525.99 L 367.97 527 L 368.25 527.05 L 374.89 528.23 L 381.81 529.53 L 382.09 529.59 L 388.73 530.89 L 390.17 531.17 L 395.94 532.33 L 400.55 533.26 L 400.84 533.32 L 404.01 533.97 L 406.32 534.46 L 408.05 534.84 L 411.79 535.66 L 412.37 535.78 L 416.7 536.76 L 417.56 536.96 L 421.6 537.89 L 423.62 538.36 L 426.79 539.11 L 431.69 540.29 L 432.84 540.57 L 441.21 542.62 L 450.72 544.99 L 452.74 545.5 L 458.51 546.98 L 458.79 547.06 L 465.14 548.72 L 466.29 549.03 L 472.35 550.65 L 474.65 551.27 L 479.84 552.69 L 487.63 554.83 L 495.61 557.05" clip-path="url(#p6e7e506e5d)" style="fill: none; stroke: #e51881; stroke-width: 1.3; stroke-linecap: square"/>
</g>
<g id="line2d_139">
<path d="M 303.38 523.88 L 322.7 523.89 L 327.31 524.29 L 331.92 524.74 L 336.54 525.22 L 341.44 525.76 L 348.36 526.6 L 354.99 527.47 L 361.33 528.38 L 367.97 529.41 L 374.89 530.57 L 381.81 531.81 L 388.73 533.13 L 395.94 534.57 L 400.55 535.54 L 404.01 536.3 L 408.05 537.25 L 412.37 538.32 L 416.7 539.44 L 421.6 540.77 L 426.79 542.22 L 432.84 543.96 L 452.74 549.78 L 458.79 551.61 L 465.14 553.56 L 472.35 555.82 L 479.84 558.24 L 487.63 560.8 L 495.61 563.47" clip-path="url(#p6e7e506e5d)" style="fill: none; stroke: #d65200; stroke-width: 1.3; stroke-linecap: square"/>
</g>
<g id="patch_33">
<path d="M 298.72 623.1 L 298.72 519.15" style="fill: none; stroke: #000000; stroke-width: 0.8; stroke-linejoin: miter; stroke-linecap: square"/>
</g>
<g id="patch_34">
<path d="M 298.72 623.1 L 495.61 623.1" style="fill: none; stroke: #000000; stroke-width: 0.8; stroke-linejoin: miter; stroke-linecap: square"/>
</g>
</g>
<g id="axes_12">
<g id="patch_35">
<path d="M 535.12 623.1 L 732.01 623.1 L 732.01 519.15 L 535.12 519.15 L 535.12 623.1 z" style="fill: none"/>
</g>
<g id="matplotlib.axis_23">
<g id="xtick_56">
<g id="line2d_140">
<g>
<use href="#m1504cfccaf" x="539.783" y="623.097" style="stroke: #000000; stroke-width: 0.8"/>
</g>
</g>
</g>
<g id="xtick_57">
<g id="line2d_141">
<g>
<use href="#m1504cfccaf" x="587.841" y="623.097" style="stroke: #000000; stroke-width: 0.8"/>
</g>
</g>
</g>
<g id="xtick_58">
<g id="line2d_142">
<g>
<use href="#m1504cfccaf" x="635.898" y="623.097" style="stroke: #000000; stroke-width: 0.8"/>
</g>
</g>
</g>
<g id="xtick_59">
<g id="line2d_143">
<g>
<use href="#m1504cfccaf" x="683.955" y="623.097" style="stroke: #000000; stroke-width: 0.8"/>
</g>
</g>
</g>
<g id="xtick_60">
<g id="line2d_144">
<g>
<use href="#m1504cfccaf" x="732.013" y="623.097" style="stroke: #000000; stroke-width: 0.8"/>
</g>
</g>
</g>
</g>
<g id="matplotlib.axis_24">
<g id="ytick_56">
<g id="line2d_145">
<g>
<use href="#m5d545ce8f8" x="535.122" y="618.372" style="stroke: #000000; stroke-width: 0.8"/>
</g>
</g>
</g>
<g id="ytick_57">
<g id="line2d_146">
<g>
<use href="#m5d545ce8f8" x="535.122" y="594.749" style="stroke: #000000; stroke-width: 0.8"/>
</g>
</g>
</g>
<g id="ytick_58">
<g id="line2d_147">
<g>
<use href="#m5d545ce8f8" x="535.122" y="571.125" style="stroke: #000000; stroke-width: 0.8"/>
</g>
</g>
</g>
<g id="ytick_59">
<g id="line2d_148">
<g>
<use href="#m5d545ce8f8" x="535.122" y="547.502" style="stroke: #000000; stroke-width: 0.8"/>
</g>
</g>
</g>
<g id="ytick_60">
<g id="line2d_149">
<g>
<use href="#m5d545ce8f8" x="535.122" y="523.878" style="stroke: #000000; stroke-width: 0.8"/>
</g>
</g>
</g>
</g>
<g id="line2d_150">
<path d="M 539.78 523.88 L 545.55 524.18 L 551.61 524.59 L 557.95 525.11 L 564.58 525.73 L 571.79 526.49 L 579.86 527.43 L 588.8 528.54 L 594.57 529.34 L 599.76 530.15 L 605.24 531.08 L 610.72 532.1 L 616.19 533.19 L 621.96 534.42 L 628.02 535.79 L 634.94 537.44 L 639.55 538.62 L 644.16 539.92 L 648.78 541.32 L 653.68 542.92 L 659.16 544.82 L 664.64 546.8 L 670.69 549.08 L 678.77 552.19 L 687.7 555.69 L 692.32 557.57 L 697.22 559.63 L 702.41 561.88 L 707.6 564.19 L 713.08 566.69 L 718.85 569.37 L 725.19 572.38 L 732.01 575.66" clip-path="url(#p72ff1b0832)" style="fill: none; stroke: #90409c; stroke-width: 1.3; stroke-linecap: square"/>
</g>
<g id="patch_36">
<path d="M 535.12 623.1 L 535.12 519.15" style="fill: none; stroke: #000000; stroke-width: 0.8; stroke-linejoin: miter; stroke-linecap: square"/>
</g>
<g id="patch_37">
<path d="M 535.12 623.1 L 732.01 623.1" style="fill: none; stroke: #000000; stroke-width: 0.8; stroke-linejoin: miter; stroke-linecap: square"/>
</g>
</g>
<g id="axes_13">
<g id="patch_38">
<path d="M 62.31 768.62 L 259.2 768.62 L 259.2 664.68 L 62.31 664.68 L 62.31 768.62 z" style="fill: none"/>
</g>
<g id="matplotlib.axis_25">
<g id="xtick_61">
<g id="line2d_151">
<g>
<use href="#m1504cfccaf" x="66.97" y="768.622" style="stroke: #000000; stroke-width: 0.8"/>
</g>
</g>
</g>
<g id="xtick_62">
<g id="line2d_152">
<g>
<use href="#m1504cfccaf" x="115.028" y="768.622" style="stroke: #000000; stroke-width: 0.8"/>
</g>
</g>
</g>
<g id="xtick_63">
<g id="line2d_153">
<g>
<use href="#m1504cfccaf" x="163.085" y="768.622" style="stroke: #000000; stroke-width: 0.8"/>
</g>
</g>
</g>
<g id="xtick_64">
<g id="line2d_154">
<g>
<use href="#m1504cfccaf" x="211.143" y="768.622" style="stroke: #000000; stroke-width: 0.8"/>
</g>
</g>
</g>
<g id="xtick_65">
<g id="line2d_155">
<g>
<use href="#m1504cfccaf" x="259.2" y="768.622" style="stroke: #000000; stroke-width: 0.8"/>
</g>
</g>
</g>
</g>
<g id="matplotlib.axis_26">
<g id="ytick_61">
<g id="line2d_156">
<g>
<use href="#m5d545ce8f8" x="62.309" y="763.897" style="stroke: #000000; stroke-width: 0.8"/>
</g>
</g>
</g>
<g id="ytick_62">
<g id="line2d_157">
<g>
<use href="#m5d545ce8f8" x="62.309" y="740.274" style="stroke: #000000; stroke-width: 0.8"/>
</g>
</g>
</g>
<g id="ytick_63">
<g id="line2d_158">
<g>
<use href="#m5d545ce8f8" x="62.309" y="716.65" style="stroke: #000000; stroke-width: 0.8"/>
</g>
</g>
</g>
<g id="ytick_64">
<g id="line2d_159">
<g>
<use href="#m5d545ce8f8" x="62.309" y="693.027" style="stroke: #000000; stroke-width: 0.8"/>
</g>
</g>
</g>
<g id="ytick_65">
<g id="line2d_160">
<g>
<use href="#m5d545ce8f8" x="62.309" y="669.403" style="stroke: #000000; stroke-width: 0.8"/>
</g>
</g>
</g>
</g>
<g id="line2d_161">
<path d="M 66.97 669.4 L 68.41 672.51 L 70.14 676.11 L 71.87 679.57 L 73.6 682.89 L 75.33 686.08 L 77.06 689.14 L 78.79 692.08 L 80.52 694.91 L 82.25 697.63 L 83.98 700.24 L 85.71 702.74 L 87.73 705.54 L 89.46 707.84 L 91.48 710.41 L 93.5 712.85 L 95.52 715.19 L 97.53 717.42 L 99.55 719.55 L 101.57 721.58 L 103.88 723.79 L 105.9 725.62 L 108.2 727.62 L 110.22 729.28 L 112.53 731.08 L 114.84 732.79 L 117.14 734.42 L 119.45 735.95 L 121.76 737.41 L 124.06 738.79 L 126.66 740.26 L 129.25 741.64 L 131.85 742.94 L 134.44 744.17 L 137.04 745.32 L 139.63 746.41 L 142.52 747.54 L 145.4 748.6 L 148.28 749.59 L 151.17 750.52 L 154.05 751.38 L 156.93 752.19 L 160.11 753.02 L 163.28 753.8 L 166.74 754.58 L 170.2 755.3 L 173.66 755.96 L 177.12 756.57 L 180.87 757.18 L 184.61 757.74 L 188.36 758.26 L 192.4 758.76 L 196.44 759.22 L 200.76 759.67 L 205.09 760.07 L 209.7 760.46 L 214.31 760.81 L 224.12 761.44 L 234.79 761.98 L 246.32 762.43 L 259.2 762.81" clip-path="url(#p9a7e799cbc)" style="fill: none; stroke: #d65200; stroke-width: 1.3; stroke-linecap: square"/>
</g>
<g id="patch_39">
<path d="M 62.31 768.62 L 62.31 664.68" style="fill: none; stroke: #000000; stroke-width: 0.8; stroke-linejoin: miter; stroke-linecap: square"/>
</g>
<g id="patch_40">
<path d="M 62.31 768.62 L 259.2 768.62" style="fill: none; stroke: #000000; stroke-width: 0.8; stroke-linejoin: miter; stroke-linecap: square"/>
</g>
</g>
<g id="axes_14">
<g id="patch_41">
<path d="M 298.72 768.62 L 495.61 768.62 L 495.61 664.68 L 298.72 664.68 L 298.72 768.62 z" style="fill: none"/>
</g>
<g id="matplotlib.axis_27">
<g id="xtick_66">
<g id="line2d_162">
<g>
<use href="#m1504cfccaf" x="303.377" y="768.622" style="stroke: #000000; stroke-width: 0.8"/>
</g>
</g>
</g>
<g id="xtick_67">
<g id="line2d_163">
<g>
<use href="#m1504cfccaf" x="351.434" y="768.622" style="stroke: #000000; stroke-width: 0.8"/>
</g>
</g>
</g>
<g id="xtick_68">
<g id="line2d_164">
<g>
<use href="#m1504cfccaf" x="399.492" y="768.622" style="stroke: #000000; stroke-width: 0.8"/>
</g>
</g>
</g>
<g id="xtick_69">
<g id="line2d_165">
<g>
<use href="#m1504cfccaf" x="447.549" y="768.622" style="stroke: #000000; stroke-width: 0.8"/>
</g>
</g>
</g>
<g id="xtick_70">
<g id="line2d_166">
<g>
<use href="#m1504cfccaf" x="495.606" y="768.622" style="stroke: #000000; stroke-width: 0.8"/>
</g>
</g>
</g>
</g>
<g id="matplotlib.axis_28">
<g id="ytick_66">
<g id="line2d_167">
<g>
<use href="#m5d545ce8f8" x="298.715" y="763.897" style="stroke: #000000; stroke-width: 0.8"/>
</g>
</g>
</g>
<g id="ytick_67">
<g id="line2d_168">
<g>
<use href="#m5d545ce8f8" x="298.715" y="740.274" style="stroke: #000000; stroke-width: 0.8"/>
</g>
</g>
</g>
<g id="ytick_68">
<g id="line2d_169">
<g>
<use href="#m5d545ce8f8" x="298.715" y="716.65" style="stroke: #000000; stroke-width: 0.8"/>
</g>
</g>
</g>
<g id="ytick_69">
<g id="line2d_170">
<g>
<use href="#m5d545ce8f8" x="298.715" y="693.027" style="stroke: #000000; stroke-width: 0.8"/>
</g>
</g>
</g>
<g id="ytick_70">
<g id="line2d_171">
<g>
<use href="#m5d545ce8f8" x="298.715" y="669.403" style="stroke: #000000; stroke-width: 0.8"/>
</g>
</g>
</g>
</g>
<g id="line2d_172">
<path d="M 303.38 669.4 L 304.82 672.51 L 306.55 676.11 L 308.28 679.57 L 310.01 682.89 L 311.74 686.08 L 313.47 689.14 L 315.2 692.08 L 316.93 694.91 L 318.66 697.63 L 320.39 700.24 L 322.12 702.74 L 324.14 705.54 L 325.87 707.84 L 327.89 710.41 L 329.9 712.85 L 331.92 715.19 L 333.94 717.42 L 335.96 719.55 L 337.98 721.58 L 340.28 723.79 L 342.3 725.62 L 344.61 727.62 L 346.63 729.28 L 348.94 731.08 L 351.24 732.79 L 353.55 734.42 L 355.86 735.95 L 358.16 737.41 L 360.47 738.79 L 363.06 740.26 L 365.66 741.64 L 368.25 742.94 L 370.85 744.17 L 373.44 745.32 L 376.04 746.41 L 378.92 747.54 L 381.81 748.6 L 384.69 749.59 L 387.57 750.52 L 390.46 751.38 L 393.34 752.19 L 396.51 753.02 L 399.68 753.8 L 403.14 754.58 L 406.6 755.3 L 410.06 755.96 L 413.52 756.57 L 417.27 757.18 L 421.02 757.74 L 424.77 758.26 L 428.81 758.76 L 432.84 759.22 L 437.17 759.67 L 441.49 760.07 L 446.11 760.46 L 450.72 760.81 L 460.52 761.44 L 471.19 761.98 L 482.73 762.43 L 495.61 762.81" clip-path="url(#pe841921045)" style="fill: none; stroke: #d65200; stroke-width: 1.3; stroke-linecap: square"/>
</g>
<g id="patch_42">
<path d="M 298.72 768.62 L 298.72 664.68" style="fill: none; stroke: #000000; stroke-width: 0.8; stroke-linejoin: miter; stroke-linecap: square"/>
</g>
<g id="patch_43">
<path d="M 298.72 768.62 L 495.61 768.62" style="fill: none; stroke: #000000; stroke-width: 0.8; stroke-linejoin: miter; stroke-linecap: square"/>
</g>
</g>
<g id="axes_15">
<g id="patch_44">
<path d="M 535.12 768.62 L 732.01 768.62 L 732.01 664.68 L 535.12 664.68 L 535.12 768.62 z" style="fill: none"/>
</g>
<g id="matplotlib.axis_29">
<g id="xtick_71">
<g id="line2d_173">
<g>
<use href="#m1504cfccaf" x="539.783" y="768.622" style="stroke: #000000; stroke-width: 0.8"/>
</g>
</g>
</g>
<g id="xtick_72">
<g id="line2d_174">
<g>
<use href="#m1504cfccaf" x="587.841" y="768.622" style="stroke: #000000; stroke-width: 0.8"/>
</g>
</g>
</g>
<g id="xtick_73">
<g id="line2d_175">
<g>
<use href="#m1504cfccaf" x="635.898" y="768.622" style="stroke: #000000; stroke-width: 0.8"/>
</g>
</g>
</g>
<g id="xtick_74">
<g id="line2d_176">
<g>
<use href="#m1504cfccaf" x="683.955" y="768.622" style="stroke: #000000; stroke-width: 0.8"/>
</g>
</g>
</g>
<g id="xtick_75">
<g id="line2d_177">
<g>
<use href="#m1504cfccaf" x="732.013" y="768.622" style="stroke: #000000; stroke-width: 0.8"/>
</g>
</g>
</g>
</g>
<g id="matplotlib.axis_30">
<g id="ytick_71">
<g id="line2d_178">
<g>
<use href="#m5d545ce8f8" x="535.122" y="763.897" style="stroke: #000000; stroke-width: 0.8"/>
</g>
</g>
</g>
<g id="ytick_72">
<g id="line2d_179">
<g>
<use href="#m5d545ce8f8" x="535.122" y="740.274" style="stroke: #000000; stroke-width: 0.8"/>
</g>
</g>
</g>
<g id="ytick_73">
<g id="line2d_180">
<g>
<use href="#m5d545ce8f8" x="535.122" y="716.65" style="stroke: #000000; stroke-width: 0.8"/>
</g>
</g>
</g>
<g id="ytick_74">
<g id="line2d_181">
<g>
<use href="#m5d545ce8f8" x="535.122" y="693.027" style="stroke: #000000; stroke-width: 0.8"/>
</g>
</g>
</g>
<g id="ytick_75">
<g id="line2d_182">
<g>
<use href="#m5d545ce8f8" x="535.122" y="669.403" style="stroke: #000000; stroke-width: 0.8"/>
</g>
</g>
</g>
</g>
<g id="line2d_183">
<path d="M 539.78 669.4 L 541.22 672.51 L 542.95 676.11 L 544.69 679.57 L 546.42 682.89 L 548.15 686.08 L 549.88 689.14 L 551.61 692.08 L 553.34 694.91 L 555.07 697.63 L 556.8 700.24 L 558.53 702.74 L 560.54 705.54 L 562.27 707.84 L 564.29 710.41 L 566.31 712.85 L 568.33 715.19 L 570.35 717.42 L 572.37 719.55 L 574.38 721.58 L 576.69 723.79 L 578.71 725.62 L 581.02 727.62 L 583.03 729.28 L 585.34 731.08 L 587.65 732.79 L 589.96 734.42 L 592.26 735.95 L 594.57 737.41 L 596.88 738.79 L 599.47 740.26 L 602.07 741.64 L 604.66 742.94 L 607.26 744.17 L 609.85 745.32 L 612.45 746.41 L 615.33 747.54 L 618.21 748.6 L 621.1 749.59 L 623.98 750.52 L 626.86 751.38 L 629.75 752.19 L 632.92 753.02 L 636.09 753.8 L 639.55 754.58 L 643.01 755.3 L 646.47 755.96 L 649.93 756.57 L 653.68 757.18 L 657.43 757.74 L 661.18 758.26 L 665.21 758.76 L 669.25 759.22 L 673.58 759.67 L 677.9 760.07 L 682.51 760.46 L 687.13 760.81 L 696.93 761.44 L 707.6 761.98 L 719.13 762.43 L 732.01 762.81" clip-path="url(#p63b910631b)" style="fill: none; stroke: #90409c; stroke-width: 1.3; stroke-linecap: square"/>
</g>
<g id="patch_45">
<path d="M 535.12 768.62 L 535.12 664.68" style="fill: none; stroke: #000000; stroke-width: 0.8; stroke-linejoin: miter; stroke-linecap: square"/>
</g>
<g id="patch_46">
<path d="M 535.12 768.62 L 732.01 768.62" style="fill: none; stroke: #000000; stroke-width: 0.8; stroke-linejoin: miter; stroke-linecap: square"/>
</g>
</g>
<g id="axes_16">
<g id="patch_47">
<path d="M 62.31 914.15 L 259.2 914.15 L 259.2 810.2 L 62.31 810.2 L 62.31 914.15 z" style="fill: none"/>
</g>
<g id="FillBetweenPolyCollection_10">
<defs>
<path id="m29b3fc2f98" d="M 66.97 -44.81 L 66.97 -44.81 L 86 -44.81 L 86.29 -44.81 L 88.6 -44.81 L 90.61 -44.81 L 92.63 -44.81 L 94.36 -44.81 L 96.09 -44.81 L 97.82 -44.81 L 99.55 -44.81 L 101.28 -44.81 L 103.01 -44.81 L 104.46 -44.81 L 106.19 -44.81 L 107.63 -44.81 L 109.36 -44.81 L 109.93 -44.81 L 110.22 -52.35 L 110.8 -52.4 L 112.53 -52.56 L 113.97 -52.7 L 114.55 -52.75 L 115.41 -52.83 L 117.14 -52.97 L 118.3 -53.07 L 118.87 -53.11 L 120.6 -53.25 L 121.76 -53.33 L 122.33 -53.37 L 124.06 -53.48 L 125.22 -53.55 L 125.79 -53.59 L 127.52 -53.68 L 128.39 -53.72 L 129.25 -53.75 L 131.27 -53.83 L 131.56 -53.84 L 133 -53.88 L 134.73 -53.92 L 135.02 -53.92 L 137.04 -53.95 L 137.61 -53.95 L 139.06 -53.95 L 140.79 -53.94 L 141.36 -53.93 L 142.52 -53.91 L 143.67 -53.88 L 143.96 -53.88 L 144.25 -53.87 L 145.98 -53.81 L 147.71 -53.75 L 149.44 -53.66 L 151.17 -53.57 L 152.9 -53.47 L 154.92 -53.33 L 155.49 -53.29 L 158.66 -53.04 L 159.24 -53 L 162.7 -52.69 L 162.99 -52.67 L 166.45 -52.34 L 167.6 -52.22 L 167.89 -49.98 L 169.91 -49.82 L 173.37 -49.54 L 176.83 -49.27 L 180.87 -48.95 L 183.17 -48.77 L 185.19 -48.62 L 187.79 -48.42 L 189.52 -48.3 L 192.11 -48.11 L 193.84 -47.99 L 196.15 -47.84 L 198.46 -47.69 L 199.9 -47.6 L 203.07 -47.41 L 203.65 -47.37 L 207.39 -47.16 L 207.68 -47.15 L 211.14 -46.97 L 212.58 -46.9 L 215.18 -46.77 L 217.77 -46.66 L 218.93 -46.61 L 222.96 -46.44 L 227 -46.29 L 228.44 -46.24 L 231.33 -46.14 L 233.92 -46.06 L 235.65 -46.01 L 239.69 -45.89 L 239.98 -45.88 L 244.59 -45.77 L 246.03 -45.73 L 249.2 -45.66 L 252.38 -45.6 L 259.2 -45.47 L 259.2 -46.8 L 259.2 -46.8 L 252.38 -47.18 L 249.2 -47.37 L 246.03 -47.59 L 244.59 -47.69 L 239.98 -48.04 L 239.69 -48.06 L 235.65 -48.4 L 233.92 -48.56 L 231.33 -48.8 L 228.44 -49.09 L 227 -49.25 L 222.96 -49.7 L 218.93 -50.2 L 217.77 -50.35 L 215.18 -50.7 L 212.58 -51.07 L 211.14 -51.29 L 207.68 -51.83 L 207.39 -51.88 L 203.65 -52.51 L 203.07 -52.61 L 199.9 -53.18 L 198.46 -53.45 L 196.15 -53.9 L 193.84 -54.37 L 192.11 -54.72 L 189.52 -55.28 L 187.79 -55.65 L 185.19 -56.24 L 183.17 -56.7 L 180.87 -57.23 L 176.83 -58.19 L 173.37 -59.02 L 169.91 -59.84 L 167.89 -60.31 L 167.6 -67.04 L 166.45 -67.39 L 162.99 -68.38 L 162.7 -68.46 L 159.24 -69.37 L 158.66 -69.51 L 155.49 -70.25 L 154.92 -70.37 L 152.9 -70.78 L 151.17 -71.1 L 149.44 -71.37 L 147.71 -71.62 L 145.98 -71.82 L 144.25 -71.98 L 143.96 -72.01 L 143.67 -72.03 L 142.52 -72.11 L 141.36 -72.17 L 140.79 -72.19 L 139.06 -72.23 L 137.61 -72.23 L 137.04 -72.22 L 135.02 -72.15 L 134.73 -72.14 L 133 -72.02 L 131.56 -71.9 L 131.27 -71.87 L 129.25 -71.65 L 128.39 -71.53 L 127.52 -71.41 L 125.79 -71.14 L 125.22 -71.04 L 124.06 -70.83 L 122.33 -70.49 L 121.76 -70.37 L 120.6 -70.12 L 118.87 -69.72 L 118.3 -69.59 L 117.14 -69.3 L 115.41 -68.86 L 114.55 -68.63 L 113.97 -68.47 L 112.53 -68.08 L 110.8 -67.58 L 110.22 -67.42 L 109.93 -44.81 L 109.36 -44.81 L 107.63 -44.81 L 106.19 -44.81 L 104.46 -44.81 L 103.01 -44.81 L 101.28 -44.81 L 99.55 -44.81 L 97.82 -44.81 L 96.09 -44.81 L 94.36 -44.81 L 92.63 -44.81 L 90.61 -44.81 L 88.6 -44.81 L 86.29 -44.81 L 86 -44.81 L 66.97 -44.81 z" style="stroke: #e7298a; stroke-opacity: 0.3"/>
</defs>
<g clip-path="url(#p3a686524f6)">
<use href="#m29b3fc2f98" x="0" y="952.46" style="fill: #e7298a; fill-opacity: 0.3; stroke: #e7298a; stroke-opacity: 0.3"/>
</g>
</g>
<g id="FillBetweenPolyCollection_11">
<defs>
<path id="maeb529b1fc" d="M 66.97 -44.81 L 66.97 -44.81 L 86 -44.81 L 86.29 -46.13 L 88.6 -46.17 L 90.61 -46.2 L 92.63 -46.23 L 94.36 -46.25 L 96.09 -46.28 L 97.82 -46.3 L 99.55 -46.32 L 101.28 -46.34 L 103.01 -46.35 L 104.46 -46.37 L 106.19 -46.38 L 107.63 -46.39 L 109.36 -46.4 L 110.8 -46.4 L 112.53 -46.4 L 113.97 -46.41 L 115.41 -46.41 L 117.14 -46.4 L 118.87 -46.4 L 120.6 -46.39 L 122.33 -46.38 L 124.06 -46.37 L 125.79 -46.35 L 127.52 -46.34 L 129.25 -46.32 L 131.27 -46.29 L 133 -46.27 L 135.02 -46.24 L 137.04 -46.21 L 139.06 -46.18 L 141.36 -46.14 L 143.67 -46.1 L 143.96 -45.71 L 155.49 -45.54 L 159.24 -45.49 L 162.7 -45.45 L 166.45 -45.4 L 169.91 -45.36 L 173.37 -45.32 L 176.83 -45.28 L 180.87 -45.24 L 185.19 -45.2 L 189.52 -45.16 L 193.84 -45.12 L 198.46 -45.09 L 203.07 -45.06 L 207.68 -45.03 L 212.58 -45.01 L 217.77 -44.98 L 222.96 -44.96 L 228.44 -44.94 L 233.92 -44.92 L 239.69 -44.91 L 246.03 -44.89 L 252.38 -44.88 L 259.2 -44.87 L 259.2 -46 L 259.2 -46 L 252.38 -46.23 L 246.03 -46.49 L 239.69 -46.79 L 233.92 -47.11 L 228.44 -47.46 L 222.96 -47.86 L 217.77 -48.29 L 212.58 -48.77 L 207.68 -49.29 L 203.07 -49.83 L 198.46 -50.43 L 193.84 -51.1 L 189.52 -51.78 L 185.19 -52.53 L 180.87 -53.35 L 176.83 -54.17 L 173.37 -54.93 L 169.91 -55.73 L 166.45 -56.58 L 162.7 -57.54 L 159.24 -58.47 L 155.49 -59.52 L 143.96 -62.84 L 143.67 -70.67 L 141.36 -71.46 L 139.06 -72.23 L 137.04 -72.86 L 135.02 -73.47 L 133 -74.03 L 131.27 -74.49 L 129.25 -74.97 L 127.52 -75.34 L 125.79 -75.68 L 124.06 -75.97 L 122.33 -76.22 L 120.6 -76.42 L 118.87 -76.57 L 117.14 -76.68 L 115.41 -76.73 L 113.97 -76.74 L 112.53 -76.72 L 110.8 -76.64 L 109.36 -76.54 L 107.63 -76.37 L 106.19 -76.2 L 104.46 -75.95 L 103.01 -75.7 L 101.28 -75.38 L 99.55 -75.01 L 97.82 -74.6 L 96.09 -74.16 L 94.36 -73.69 L 92.63 -73.19 L 90.61 -72.58 L 88.6 -71.94 L 86.29 -71.17 L 86 -44.81 L 66.97 -44.81 z" style="stroke: #1b9e77; stroke-opacity: 0.3"/>
</defs>
<g clip-path="url(#p3a686524f6)">
<use href="#maeb529b1fc" x="0" y="952.46" style="fill: #1b9e77; fill-opacity: 0.3; stroke: #1b9e77; stroke-opacity: 0.3"/>
</g>
</g>
<g id="FillBetweenPolyCollection_12">
<defs>
<path id="m127402686f" d="M 66.97 -44.81 L 66.97 -44.81 L 86 -44.81 L 86.29 -46.13 L 88.6 -46.17 L 90.61 -46.2 L 92.63 -46.23 L 94.36 -46.25 L 96.09 -46.28 L 97.82 -46.3 L 99.55 -46.32 L 101.28 -46.34 L 103.01 -46.35 L 104.46 -46.37 L 106.19 -46.38 L 107.63 -46.39 L 109.36 -46.4 L 110.8 -46.4 L 112.53 -46.4 L 113.97 -46.41 L 115.41 -46.41 L 117.14 -46.4 L 118.87 -46.4 L 120.6 -46.39 L 122.33 -46.38 L 124.06 -46.37 L 125.79 -46.35 L 127.52 -46.34 L 129.25 -46.32 L 131.27 -46.29 L 133 -46.27 L 135.02 -46.24 L 137.04 -46.21 L 139.06 -46.18 L 141.36 -46.14 L 143.67 -46.1 L 143.96 -45.71 L 155.49 -45.54 L 159.24 -45.49 L 162.7 -45.45 L 166.45 -45.4 L 169.91 -45.36 L 173.37 -45.32 L 176.83 -45.28 L 180.87 -45.24 L 185.19 -45.2 L 189.52 -45.16 L 193.84 -45.12 L 198.46 -45.09 L 203.07 -45.06 L 207.68 -45.03 L 212.58 -45.01 L 217.77 -44.98 L 222.96 -44.96 L 228.44 -44.94 L 233.92 -44.92 L 239.69 -44.91 L 246.03 -44.89 L 252.38 -44.88 L 259.2 -44.87 L 259.2 -45.4 L 259.2 -45.4 L 252.38 -45.52 L 246.03 -45.65 L 239.69 -45.8 L 233.92 -45.96 L 228.44 -46.13 L 222.96 -46.33 L 217.77 -46.55 L 212.58 -46.79 L 207.68 -47.05 L 203.07 -47.32 L 198.46 -47.62 L 193.84 -47.95 L 189.52 -48.29 L 185.19 -48.67 L 180.87 -49.08 L 176.83 -49.49 L 173.37 -49.87 L 169.91 -50.27 L 166.45 -50.69 L 162.7 -51.17 L 159.24 -51.64 L 155.49 -52.16 L 143.96 -53.82 L 143.67 -57.74 L 141.36 -58.14 L 139.06 -58.52 L 137.04 -58.84 L 135.02 -59.14 L 133 -59.42 L 131.27 -59.65 L 129.25 -59.89 L 127.52 -60.08 L 125.79 -60.24 L 124.06 -60.39 L 122.33 -60.51 L 120.6 -60.61 L 118.87 -60.69 L 117.14 -60.74 L 115.41 -60.77 L 113.97 -60.78 L 112.53 -60.76 L 110.8 -60.72 L 109.36 -60.67 L 107.63 -60.59 L 106.19 -60.5 L 104.46 -60.38 L 103.01 -60.26 L 101.28 -60.09 L 99.55 -59.91 L 97.82 -59.71 L 96.09 -59.49 L 94.36 -59.25 L 92.63 -59 L 90.61 -58.69 L 88.6 -58.37 L 86.29 -57.99 L 86 -44.81 L 66.97 -44.81 z" style="stroke: #984ea3; stroke-opacity: 0.3"/>
</defs>
<g clip-path="url(#p3a686524f6)">
<use href="#m127402686f" x="0" y="952.46" style="fill: #984ea3; fill-opacity: 0.3; stroke: #984ea3; stroke-opacity: 0.3"/>
</g>
</g>
<g id="FillBetweenPolyCollection_13">
<defs>
<path id="mdc89b7eafd" d="M 66.97 -44.81 L 66.97 -44.81 L 86 -44.81 L 86.29 -53.6 L 88.6 -53.85 L 90.61 -54.07 L 92.63 -54.27 L 94.36 -54.44 L 96.09 -54.59 L 97.82 -54.74 L 99.55 -54.88 L 101.28 -55 L 103.01 -55.11 L 104.46 -55.19 L 106.19 -55.27 L 107.63 -55.33 L 109.36 -55.39 L 110.8 -55.42 L 112.53 -55.45 L 113.97 -55.45 L 115.41 -55.45 L 117.14 -55.43 L 118.87 -55.4 L 120.6 -55.35 L 122.33 -55.28 L 124.06 -55.2 L 125.79 -55.1 L 127.52 -54.99 L 129.25 -54.86 L 131.27 -54.7 L 133 -54.55 L 135.02 -54.36 L 137.04 -54.16 L 139.06 -53.95 L 141.36 -53.69 L 143.67 -53.43 L 143.96 -50.82 L 155.49 -49.71 L 159.24 -49.36 L 162.7 -49.05 L 166.45 -48.73 L 169.91 -48.45 L 173.37 -48.18 L 176.83 -47.93 L 180.87 -47.65 L 185.19 -47.38 L 189.52 -47.13 L 193.84 -46.9 L 198.46 -46.68 L 203.07 -46.48 L 207.68 -46.3 L 212.58 -46.13 L 217.77 -45.97 L 222.96 -45.83 L 228.44 -45.69 L 233.92 -45.58 L 239.69 -45.47 L 246.03 -45.37 L 252.38 -45.28 L 259.2 -45.21 L 259.2 -46.79 L 259.2 -46.79 L 252.38 -47.18 L 246.03 -47.61 L 239.69 -48.12 L 233.92 -48.65 L 228.44 -49.23 L 222.96 -49.89 L 217.77 -50.61 L 212.58 -51.42 L 207.68 -52.28 L 203.07 -53.18 L 198.46 -54.18 L 193.84 -55.29 L 189.52 -56.43 L 185.19 -57.68 L 180.87 -59.04 L 176.83 -60.41 L 173.37 -61.67 L 169.91 -63.01 L 166.45 -64.42 L 162.7 -66.03 L 159.24 -67.58 L 155.49 -69.32 L 143.96 -74.86 L 143.67 -87.91 L 141.36 -89.23 L 139.06 -90.51 L 137.04 -91.57 L 135.02 -92.57 L 133 -93.52 L 131.27 -94.27 L 129.25 -95.08 L 127.52 -95.7 L 125.79 -96.26 L 124.06 -96.75 L 122.33 -97.16 L 120.6 -97.49 L 118.87 -97.75 L 117.14 -97.93 L 115.41 -98.02 L 113.97 -98.03 L 112.53 -97.99 L 110.8 -97.86 L 109.36 -97.69 L 107.63 -97.41 L 106.19 -97.12 L 104.46 -96.71 L 103.01 -96.3 L 101.28 -95.75 L 99.55 -95.14 L 97.82 -94.46 L 96.09 -93.73 L 94.36 -92.95 L 92.63 -92.12 L 90.61 -91.1 L 88.6 -90.02 L 86.29 -88.75 L 86 -44.81 L 66.97 -44.81 z" style="stroke: #d95f02; stroke-opacity: 0.3"/>
</defs>
<g clip-path="url(#p3a686524f6)">
<use href="#mdc89b7eafd" x="0" y="952.46" style="fill: #d95f02; fill-opacity: 0.3; stroke: #d95f02; stroke-opacity: 0.3"/>
</g>
</g>
<g id="matplotlib.axis_31">
<g id="xtick_76">
<g id="line2d_184">
<g>
<use href="#m1504cfccaf" x="66.97" y="914.147" style="stroke: #000000; stroke-width: 0.8"/>
</g>
</g>
</g>
<g id="xtick_77">
<g id="line2d_185">
<g>
<use href="#m1504cfccaf" x="115.028" y="914.147" style="stroke: #000000; stroke-width: 0.8"/>
</g>
</g>
</g>
<g id="xtick_78">
<g id="line2d_186">
<g>
<use href="#m1504cfccaf" x="163.085" y="914.147" style="stroke: #000000; stroke-width: 0.8"/>
</g>
</g>
</g>
<g id="xtick_79">
<g id="line2d_187">
<g>
<use href="#m1504cfccaf" x="211.143" y="914.147" style="stroke: #000000; stroke-width: 0.8"/>
</g>
</g>
</g>
<g id="xtick_80">
<g id="line2d_188">
<g>
<use href="#m1504cfccaf" x="259.2" y="914.147" style="stroke: #000000; stroke-width: 0.8"/>
</g>
</g>
</g>
</g>
<g id="matplotlib.axis_32">
<g id="ytick_76">
<g id="line2d_189">
<g>
<use href="#m5d545ce8f8" x="62.309" y="907.651" style="stroke: #000000; stroke-width: 0.8"/>
</g>
</g>
</g>
<g id="ytick_77">
<g id="line2d_190">
<g>
<use href="#m5d545ce8f8" x="62.309" y="875.168" style="stroke: #000000; stroke-width: 0.8"/>
</g>
</g>
</g>
<g id="ytick_78">
<g id="line2d_191">
<g>
<use href="#m5d545ce8f8" x="62.309" y="842.686" style="stroke: #000000; stroke-width: 0.8"/>
</g>
</g>
</g>
<g id="ytick_79">
<g id="line2d_192">
<g>
<use href="#m5d545ce8f8" x="62.309" y="810.204" style="stroke: #000000; stroke-width: 0.8"/>
</g>
</g>
</g>
</g>
<g id="line2d_193">
<path d="M 86 907.65 L 86.29 907.65 L 88.6 907.65 L 90.61 907.65 L 92.63 907.65 L 94.36 907.65 L 96.09 907.65 L 97.82 907.65 L 99.55 907.65 L 101.28 907.65 L 103.01 907.65 L 104.46 907.65 L 106.19 907.65 L 107.63 907.65 L 109.36 907.65 L 109.93 907.65 L 110.22 885.04 L 110.8 884.88 L 112.53 884.38 L 113.97 883.99 L 114.55 883.83 L 115.41 883.6 L 117.14 883.16 L 118.3 882.87 L 118.87 882.73 L 120.6 882.34 L 121.76 882.09 L 122.33 881.97 L 124.06 881.63 L 125.22 881.42 L 125.79 881.32 L 127.52 881.05 L 128.39 880.93 L 129.25 880.81 L 131.27 880.59 L 131.56 880.56 L 133 880.43 L 134.73 880.32 L 135.02 880.31 L 137.04 880.24 L 137.61 880.23 L 139.06 880.23 L 140.79 880.27 L 141.36 880.29 L 142.52 880.35 L 143.67 880.43 L 143.96 880.45 L 144.25 880.47 L 145.98 880.64 L 147.71 880.84 L 149.44 881.09 L 151.17 881.36 L 152.9 881.68 L 154.92 882.09 L 155.49 882.21 L 158.66 882.95 L 159.24 883.09 L 162.7 884 L 162.99 884.08 L 166.45 885.07 L 167.6 885.41 L 167.89 892.15 L 169.91 892.62 L 173.37 893.44 L 176.83 894.27 L 180.87 895.23 L 183.17 895.76 L 185.19 896.22 L 187.79 896.81 L 189.52 897.18 L 192.11 897.74 L 193.84 898.09 L 196.15 898.56 L 198.46 899.01 L 199.9 899.28 L 203.07 899.85 L 203.65 899.95 L 207.39 900.58 L 207.68 900.63 L 211.14 901.17 L 212.58 901.39 L 215.18 901.76 L 217.77 902.11 L 218.93 902.26 L 222.96 902.76 L 227 903.21 L 228.44 903.37 L 231.33 903.66 L 233.92 903.9 L 235.65 904.06 L 239.69 904.4 L 239.98 904.42 L 244.59 904.77 L 246.03 904.87 L 249.2 905.09 L 252.38 905.28 L 259.2 905.66" clip-path="url(#p3a686524f6)" style="fill: none; stroke: #e51881; stroke-width: 1.3; stroke-linecap: square"/>
</g>
<g id="line2d_194">
<path d="M 109.93 907.65 L 110.22 900.11 L 110.8 900.06 L 112.53 899.89 L 113.97 899.76 L 114.55 899.71 L 115.41 899.63 L 117.14 899.49 L 118.3 899.39 L 118.87 899.35 L 120.6 899.21 L 121.76 899.13 L 122.33 899.09 L 124.06 898.98 L 125.22 898.91 L 125.79 898.87 L 127.52 898.78 L 128.39 898.74 L 129.25 898.7 L 131.27 898.63 L 131.56 898.62 L 133 898.58 L 134.73 898.54 L 135.02 898.54 L 137.04 898.51 L 137.61 898.51 L 139.06 898.51 L 140.79 898.52 L 141.36 898.53 L 142.52 898.55 L 143.67 898.58 L 143.96 898.58 L 144.25 898.59 L 145.98 898.65 L 147.71 898.71 L 149.44 898.8 L 151.17 898.89 L 152.9 898.99 L 154.92 899.13 L 155.49 899.17 L 158.66 899.42 L 159.24 899.46 L 162.7 899.77 L 162.99 899.79 L 166.45 900.12 L 167.6 900.24 L 167.89 902.48 L 169.91 902.64 L 173.37 902.91 L 176.83 903.19 L 180.87 903.51 L 183.17 903.69 L 185.19 903.84 L 187.79 904.04 L 189.52 904.16 L 192.11 904.35 L 193.84 904.47 L 196.15 904.62 L 198.46 904.77 L 199.9 904.86 L 203.07 905.05 L 203.65 905.08 L 207.39 905.3 L 207.68 905.31 L 211.14 905.49 L 212.58 905.56 L 215.18 905.69 L 217.77 905.8 L 218.93 905.85 L 222.96 906.02 L 227 906.17 L 228.44 906.22 L 231.33 906.32 L 233.92 906.4 L 235.65 906.45 L 239.69 906.57 L 239.98 906.57 L 244.59 906.69 L 246.03 906.73 L 249.2 906.8 L 252.38 906.86 L 259.2 906.99" clip-path="url(#p3a686524f6)" style="fill: none; stroke-dasharray: 5.55,2.4; stroke-dashoffset: 3.21334; stroke: #e51881; stroke-width: 1.3"/>
</g>
<g id="line2d_195">
<path d="M 86 907.65 L 86.29 881.29 L 88.6 880.52 L 90.61 879.88 L 92.63 879.27 L 94.36 878.77 L 96.09 878.3 L 97.82 877.86 L 99.55 877.45 L 101.28 877.08 L 103.01 876.76 L 104.46 876.51 L 106.19 876.26 L 107.63 876.09 L 109.36 875.92 L 110.8 875.82 L 112.53 875.74 L 113.97 875.72 L 115.41 875.72 L 117.14 875.78 L 118.87 875.89 L 120.6 876.04 L 122.33 876.24 L 124.06 876.49 L 125.79 876.78 L 127.52 877.12 L 129.25 877.49 L 131.27 877.97 L 133 878.42 L 135.02 878.99 L 137.04 879.6 L 139.06 880.23 L 141.36 881 L 143.67 881.79 L 143.96 889.62 L 155.49 892.94 L 159.24 893.99 L 162.7 894.92 L 166.45 895.88 L 169.91 896.73 L 173.37 897.53 L 176.83 898.29 L 180.87 899.11 L 185.19 899.93 L 189.52 900.68 L 193.84 901.36 L 198.46 902.03 L 203.07 902.63 L 207.68 903.17 L 212.58 903.69 L 217.77 904.17 L 222.96 904.6 L 228.44 905 L 233.92 905.35 L 239.69 905.67 L 246.03 905.97 L 252.38 906.23 L 259.2 906.46" clip-path="url(#p3a686524f6)" style="fill: none; stroke: #09966c; stroke-width: 1.3; stroke-linecap: square"/>
</g>
<g id="line2d_196">
<path d="M 86 907.65 L 86.29 894.47 L 88.6 894.09 L 90.61 893.76 L 92.63 893.46 L 94.36 893.21 L 96.09 892.97 L 97.82 892.75 L 99.55 892.55 L 101.28 892.37 L 103.01 892.2 L 104.46 892.08 L 106.19 891.96 L 107.63 891.87 L 109.36 891.79 L 110.8 891.74 L 112.53 891.7 L 113.97 891.68 L 115.41 891.69 L 117.14 891.72 L 118.87 891.77 L 120.6 891.85 L 122.33 891.95 L 124.06 892.07 L 125.79 892.22 L 127.52 892.38 L 129.25 892.57 L 131.27 892.81 L 133 893.04 L 135.02 893.32 L 137.04 893.62 L 139.06 893.94 L 141.36 894.32 L 143.67 894.72 L 143.96 898.64 L 155.49 900.3 L 159.24 900.82 L 162.7 901.28 L 166.45 901.77 L 169.91 902.19 L 173.37 902.59 L 176.83 902.97 L 180.87 903.38 L 185.19 903.79 L 189.52 904.16 L 193.84 904.51 L 198.46 904.84 L 203.07 905.14 L 207.68 905.41 L 212.58 905.67 L 217.77 905.91 L 222.96 906.13 L 228.44 906.32 L 233.92 906.5 L 239.69 906.66 L 246.03 906.81 L 252.38 906.94 L 259.2 907.06" clip-path="url(#p3a686524f6)" style="fill: none; stroke: #90409c; stroke-width: 1.3; stroke-linecap: square"/>
</g>
<g id="line2d_197">
<path d="M 86 907.65 L 86.29 906.33 L 88.6 906.29 L 90.61 906.26 L 92.63 906.23 L 94.36 906.21 L 96.09 906.18 L 97.82 906.16 L 99.55 906.14 L 101.28 906.12 L 103.01 906.11 L 104.46 906.09 L 106.19 906.08 L 107.63 906.07 L 109.36 906.06 L 110.8 906.06 L 112.53 906.06 L 113.97 906.05 L 115.41 906.05 L 117.14 906.06 L 118.87 906.06 L 120.6 906.07 L 122.33 906.08 L 124.06 906.09 L 125.79 906.11 L 127.52 906.12 L 129.25 906.14 L 131.27 906.17 L 133 906.19 L 135.02 906.22 L 137.04 906.25 L 139.06 906.28 L 141.36 906.32 L 143.67 906.36 L 143.96 906.75 L 155.49 906.92 L 159.24 906.97 L 162.7 907.01 L 166.45 907.06 L 169.91 907.1 L 173.37 907.14 L 176.83 907.18 L 180.87 907.22 L 185.19 907.26 L 189.52 907.3 L 193.84 907.34 L 198.46 907.37 L 203.07 907.4 L 207.68 907.43 L 212.58 907.45 L 217.77 907.48 L 222.96 907.5 L 228.44 907.52 L 233.92 907.54 L 239.69 907.55 L 246.03 907.57 L 252.38 907.58 L 259.2 907.59" clip-path="url(#p3a686524f6)" style="fill: none; stroke-dasharray: 5.55,2.4; stroke-dashoffset: 3.130741; stroke: #90409c; stroke-width: 1.3"/>
</g>
<g id="line2d_198">
<path d="M 66.97 907.65 L 86 907.65 L 86.29 863.71 L 88.6 862.44 L 90.61 861.36 L 92.63 860.34 L 94.36 859.51 L 96.09 858.73 L 97.82 858 L 99.55 857.32 L 101.28 856.71 L 103.01 856.16 L 104.46 855.75 L 106.19 855.34 L 107.63 855.05 L 109.36 854.77 L 110.8 854.6 L 112.53 854.47 L 113.97 854.43 L 115.41 854.44 L 117.14 854.53 L 118.87 854.71 L 120.6 854.97 L 122.33 855.3 L 124.06 855.71 L 125.79 856.2 L 127.52 856.76 L 129.25 857.38 L 131.27 858.19 L 133 858.94 L 135.02 859.88 L 137.04 860.89 L 139.06 861.95 L 141.36 863.23 L 143.67 864.55 L 143.96 877.6 L 155.49 883.14 L 159.24 884.88 L 162.7 886.43 L 166.45 888.04 L 169.91 889.45 L 173.37 890.79 L 176.83 892.05 L 180.87 893.42 L 185.19 894.78 L 189.52 896.03 L 193.84 897.17 L 198.46 898.28 L 203.07 899.28 L 207.68 900.18 L 212.58 901.04 L 217.77 901.85 L 222.96 902.57 L 228.44 903.23 L 233.92 903.81 L 239.69 904.34 L 246.03 904.85 L 252.38 905.28 L 259.2 905.67" clip-path="url(#p3a686524f6)" style="fill: none; stroke: #d65200; stroke-width: 1.3; stroke-linecap: square"/>
</g>
<g id="line2d_199">
<path d="M 86 907.65 L 86.29 898.86 L 88.6 898.61 L 90.61 898.39 L 92.63 898.19 L 94.36 898.02 L 96.09 897.87 L 97.82 897.72 L 99.55 897.58 L 101.28 897.46 L 103.01 897.35 L 104.46 897.27 L 106.19 897.19 L 107.63 897.13 L 109.36 897.07 L 110.8 897.04 L 112.53 897.01 L 113.97 897.01 L 115.41 897.01 L 117.14 897.03 L 118.87 897.06 L 120.6 897.11 L 122.33 897.18 L 124.06 897.26 L 125.79 897.36 L 127.52 897.47 L 129.25 897.6 L 131.27 897.76 L 133 897.91 L 135.02 898.1 L 137.04 898.3 L 139.06 898.51 L 141.36 898.77 L 143.67 899.03 L 143.96 901.64 L 155.49 902.75 L 159.24 903.1 L 162.7 903.41 L 166.45 903.73 L 169.91 904.01 L 173.37 904.28 L 176.83 904.53 L 180.87 904.81 L 185.19 905.08 L 189.52 905.33 L 193.84 905.55 L 198.46 905.78 L 203.07 905.98 L 207.68 906.16 L 212.58 906.33 L 217.77 906.49 L 222.96 906.63 L 228.44 906.77 L 233.92 906.88 L 239.69 906.99 L 246.03 907.09 L 252.38 907.18 L 259.2 907.25" clip-path="url(#p3a686524f6)" style="fill: none; stroke-dasharray: 5.55,2.4; stroke-dashoffset: 3.130741; stroke: #d65200; stroke-width: 1.3"/>
</g>
<g id="patch_48">
<path d="M 62.31 914.15 L 62.31 810.2" style="fill: none; stroke: #000000; stroke-width: 0.8; stroke-linejoin: miter; stroke-linecap: square"/>
</g>
<g id="patch_49">
<path d="M 62.31 914.15 L 259.2 914.15" style="fill: none; stroke: #000000; stroke-width: 0.8; stroke-linejoin: miter; stroke-linecap: square"/>
</g>
</g>
<g id="axes_17">
<g id="patch_50">
<path d="M 298.72 914.15 L 495.61 914.15 L 495.61 810.2 L 298.72 810.2 L 298.72 914.15 z" style="fill: none"/>
</g>
<g id="FillBetweenPolyCollection_14">
<defs>
<path id="m0653a917a1" d="M 303.38 -44.81 L 303.38 -44.81 L 322.41 -44.81 L 322.7 -44.81 L 326.44 -44.81 L 329.9 -44.81 L 333.08 -44.81 L 336.25 -44.81 L 339.13 -44.81 L 340.57 -44.81 L 342.01 -44.81 L 343.46 -44.81 L 344.9 -44.81 L 346.34 -44.81 L 346.63 -52.35 L 347.78 -52.45 L 350.09 -52.64 L 352.4 -52.82 L 353.26 -52.88 L 354.7 -52.98 L 356.43 -53.09 L 357.01 -53.13 L 359.32 -53.25 L 361.91 -53.37 L 362.2 -53.38 L 364.22 -53.46 L 364.79 -53.47 L 366.81 -53.52 L 367.68 -53.54 L 368.83 -53.55 L 370.27 -53.56 L 371.14 -53.56 L 372.58 -53.56 L 373.44 -53.55 L 374.89 -53.53 L 375.75 -53.51 L 377.19 -53.47 L 379.79 -53.38 L 380.65 -53.35 L 382.09 -53.28 L 384.69 -53.13 L 387.29 -52.96 L 390.17 -52.75 L 391.32 -52.65 L 392.19 -52.58 L 394.49 -52.38 L 396.51 -52.19 L 399.68 -51.88 L 402.28 -51.61 L 404.3 -51.4 L 407.47 -51.06 L 410.64 -50.72 L 413.52 -50.41 L 414.39 -50.32 L 416.41 -50.1 L 418.71 -49.86 L 419.29 -49.8 L 422.17 -49.51 L 423.62 -49.37 L 425.06 -49.22 L 427.94 -48.95 L 431.11 -48.66 L 433.13 -48.49 L 434.29 -48.39 L 437.75 -48.11 L 438.03 -48.09 L 440.92 -47.86 L 442.94 -47.72 L 444.38 -47.62 L 447.84 -47.39 L 448.13 -47.37 L 451.59 -47.15 L 453.32 -47.05 L 455.33 -46.94 L 458.79 -46.76 L 459.37 -46.73 L 463.41 -46.54 L 464.27 -46.5 L 467.44 -46.36 L 470.04 -46.26 L 471.77 -46.2 L 476.1 -46.04 L 480.71 -45.9 L 482.15 -45.86 L 485.32 -45.77 L 488.78 -45.68 L 490.22 -45.65 L 495.61 -45.54 L 495.61 -46.99 L 495.61 -46.99 L 490.22 -47.33 L 488.78 -47.44 L 485.32 -47.7 L 482.15 -47.96 L 480.71 -48.08 L 476.1 -48.51 L 471.77 -48.97 L 470.04 -49.16 L 467.44 -49.47 L 464.27 -49.88 L 463.41 -50 L 459.37 -50.57 L 458.79 -50.66 L 455.33 -51.2 L 453.32 -51.54 L 451.59 -51.84 L 448.13 -52.48 L 447.84 -52.54 L 444.38 -53.23 L 442.94 -53.54 L 440.92 -53.98 L 438.03 -54.64 L 437.75 -54.7 L 434.29 -55.55 L 433.13 -55.84 L 431.11 -56.37 L 427.94 -57.23 L 425.06 -58.06 L 423.62 -58.48 L 422.17 -58.91 L 419.29 -59.79 L 418.71 -59.96 L 416.41 -60.69 L 414.39 -61.33 L 413.52 -61.61 L 410.64 -62.54 L 407.47 -63.56 L 404.3 -64.58 L 402.28 -65.21 L 399.68 -66.01 L 396.51 -66.94 L 394.49 -67.51 L 392.19 -68.12 L 391.32 -68.34 L 390.17 -68.62 L 387.29 -69.27 L 384.69 -69.78 L 382.09 -70.22 L 380.65 -70.42 L 379.79 -70.53 L 377.19 -70.8 L 375.75 -70.91 L 374.89 -70.97 L 373.44 -71.03 L 372.58 -71.05 L 371.14 -71.07 L 370.27 -71.07 L 368.83 -71.04 L 367.68 -70.99 L 366.81 -70.95 L 364.79 -70.8 L 364.22 -70.75 L 362.2 -70.53 L 361.91 -70.5 L 359.32 -70.14 L 357.01 -69.76 L 356.43 -69.65 L 354.7 -69.32 L 353.26 -69.02 L 352.4 -68.83 L 350.09 -68.3 L 347.78 -67.72 L 346.63 -67.42 L 346.34 -44.81 L 344.9 -44.81 L 343.46 -44.81 L 342.01 -44.81 L 340.57 -44.81 L 339.13 -44.81 L 336.25 -44.81 L 333.08 -44.81 L 329.9 -44.81 L 326.44 -44.81 L 322.7 -44.81 L 322.41 -44.81 L 303.38 -44.81 z" style="stroke: #e7298a; stroke-opacity: 0.3"/>
</defs>
<g clip-path="url(#pce9f1de50f)">
<use href="#m0653a917a1" x="0" y="952.46" style="fill: #e7298a; fill-opacity: 0.3; stroke: #e7298a; stroke-opacity: 0.3"/>
</g>
</g>
<g id="FillBetweenPolyCollection_15">
<defs>
<path id="m3769175b09" d="M 303.38 -44.81 L 303.38 -44.81 L 322.41 -44.81 L 322.7 -46.13 L 326.44 -46.18 L 329.9 -46.23 L 333.08 -46.27 L 336.25 -46.3 L 339.13 -46.32 L 340.57 -46.33 L 342.01 -46.34 L 343.46 -46.35 L 344.9 -46.35 L 346.34 -46.36 L 347.78 -46.36 L 350.09 -46.36 L 352.4 -46.35 L 354.7 -46.34 L 357.01 -46.32 L 359.32 -46.31 L 361.91 -46.28 L 364.22 -46.25 L 366.81 -46.22 L 368.83 -46.19 L 371.14 -46.15 L 373.44 -46.12 L 375.75 -46.08 L 380.65 -45.99 L 391.32 -45.79 L 396.51 -45.69 L 402.28 -45.59 L 407.47 -45.5 L 410.64 -45.45 L 413.52 -45.41 L 416.41 -45.37 L 419.29 -45.33 L 422.17 -45.3 L 425.06 -45.26 L 427.94 -45.23 L 431.11 -45.2 L 434.29 -45.17 L 437.75 -45.14 L 440.92 -45.11 L 444.38 -45.08 L 447.84 -45.06 L 451.59 -45.03 L 455.33 -45.01 L 459.37 -44.99 L 463.41 -44.97 L 467.44 -44.95 L 471.77 -44.94 L 476.1 -44.92 L 480.71 -44.91 L 485.32 -44.9 L 490.22 -44.89 L 495.61 -44.87 L 495.61 -45.72 L 495.61 -45.72 L 490.22 -45.88 L 485.32 -46.04 L 480.71 -46.21 L 476.1 -46.41 L 471.77 -46.62 L 467.44 -46.85 L 463.41 -47.09 L 459.37 -47.36 L 455.33 -47.66 L 451.59 -47.96 L 447.84 -48.3 L 444.38 -48.64 L 440.92 -49.01 L 437.75 -49.38 L 434.29 -49.81 L 431.11 -50.24 L 427.94 -50.7 L 425.06 -51.15 L 422.17 -51.63 L 419.29 -52.14 L 416.41 -52.68 L 413.52 -53.24 L 410.64 -53.84 L 407.47 -54.53 L 402.28 -55.72 L 396.51 -57.14 L 391.32 -58.48 L 380.65 -61.3 L 375.75 -62.55 L 373.44 -63.11 L 371.14 -63.64 L 368.83 -64.14 L 366.81 -64.55 L 364.22 -65.03 L 361.91 -65.4 L 359.32 -65.76 L 357.01 -66.03 L 354.7 -66.24 L 352.4 -66.38 L 350.09 -66.46 L 347.78 -66.49 L 346.34 -66.47 L 344.9 -66.43 L 343.46 -66.36 L 342.01 -66.27 L 340.57 -66.16 L 339.13 -66.03 L 336.25 -65.7 L 333.08 -65.25 L 329.9 -64.72 L 326.44 -64.05 L 322.7 -63.26 L 322.41 -44.81 L 303.38 -44.81 z" style="stroke: #1b9e77; stroke-opacity: 0.3"/>
</defs>
<g clip-path="url(#pce9f1de50f)">
<use href="#m3769175b09" x="0" y="952.46" style="fill: #1b9e77; fill-opacity: 0.3; stroke: #1b9e77; stroke-opacity: 0.3"/>
</g>
</g>
<g id="FillBetweenPolyCollection_16">
<defs>
<path id="m3a2ee295ed" d="M 303.38 -44.81 L 303.38 -44.81 L 322.41 -44.81 L 322.7 -46.13 L 326.44 -46.18 L 329.9 -46.23 L 333.08 -46.27 L 336.25 -46.3 L 339.13 -46.32 L 340.57 -46.33 L 342.01 -46.34 L 343.46 -46.35 L 344.9 -46.35 L 346.34 -46.36 L 347.78 -46.36 L 350.09 -46.36 L 352.4 -46.35 L 354.7 -46.34 L 357.01 -46.32 L 359.32 -46.31 L 361.91 -46.28 L 364.22 -46.25 L 366.81 -46.22 L 368.83 -46.19 L 371.14 -46.15 L 373.44 -46.12 L 375.75 -46.08 L 380.65 -45.99 L 391.32 -45.79 L 396.51 -45.69 L 402.28 -45.59 L 407.47 -45.5 L 410.64 -45.45 L 413.52 -45.41 L 416.41 -45.37 L 419.29 -45.33 L 422.17 -45.3 L 425.06 -45.26 L 427.94 -45.23 L 431.11 -45.2 L 434.29 -45.17 L 437.75 -45.14 L 440.92 -45.11 L 444.38 -45.08 L 447.84 -45.06 L 451.59 -45.03 L 455.33 -45.01 L 459.37 -44.99 L 463.41 -44.97 L 467.44 -44.95 L 471.77 -44.94 L 476.1 -44.92 L 480.71 -44.91 L 485.32 -44.9 L 490.22 -44.89 L 495.61 -44.87 L 495.61 -45.46 L 495.61 -45.46 L 490.22 -45.57 L 485.32 -45.69 L 480.71 -45.81 L 476.1 -45.95 L 471.77 -46.1 L 467.44 -46.27 L 463.41 -46.44 L 459.37 -46.63 L 455.33 -46.85 L 451.59 -47.06 L 447.84 -47.3 L 444.38 -47.54 L 440.92 -47.81 L 437.75 -48.07 L 434.29 -48.38 L 431.11 -48.69 L 427.94 -49.02 L 425.06 -49.34 L 422.17 -49.68 L 419.29 -50.04 L 416.41 -50.43 L 413.52 -50.83 L 410.64 -51.26 L 407.47 -51.75 L 402.28 -52.6 L 396.51 -53.62 L 391.32 -54.57 L 380.65 -56.59 L 375.75 -57.48 L 373.44 -57.88 L 371.14 -58.26 L 368.83 -58.62 L 366.81 -58.91 L 364.22 -59.25 L 361.91 -59.52 L 359.32 -59.78 L 357.01 -59.97 L 354.7 -60.11 L 352.4 -60.22 L 350.09 -60.28 L 347.78 -60.29 L 346.34 -60.28 L 344.9 -60.25 L 343.46 -60.2 L 342.01 -60.14 L 340.57 -60.06 L 339.13 -59.97 L 336.25 -59.73 L 333.08 -59.41 L 329.9 -59.03 L 326.44 -58.56 L 322.7 -57.99 L 322.41 -44.81 L 303.38 -44.81 z" style="stroke: #984ea3; stroke-opacity: 0.3"/>
</defs>
<g clip-path="url(#pce9f1de50f)">
<use href="#m3a2ee295ed" x="0" y="952.46" style="fill: #984ea3; fill-opacity: 0.3; stroke: #984ea3; stroke-opacity: 0.3"/>
</g>
</g>
<g id="FillBetweenPolyCollection_17">
<defs>
<path id="m91b9ffe3ab" d="M 303.38 -44.81 L 303.38 -44.81 L 322.41 -44.81 L 322.7 -49.2 L 326.44 -49.39 L 329.9 -49.55 L 333.08 -49.68 L 336.25 -49.78 L 339.13 -49.86 L 340.57 -49.89 L 342.01 -49.92 L 343.46 -49.94 L 344.9 -49.96 L 346.34 -49.97 L 347.78 -49.97 L 350.09 -49.97 L 352.4 -49.95 L 354.7 -49.91 L 357.01 -49.86 L 359.32 -49.8 L 361.91 -49.71 L 364.22 -49.62 L 366.81 -49.51 L 368.83 -49.41 L 371.14 -49.29 L 373.44 -49.17 L 375.75 -49.03 L 380.65 -48.74 L 391.32 -48.06 L 396.51 -47.75 L 402.28 -47.41 L 407.47 -47.12 L 410.64 -46.96 L 413.52 -46.82 L 416.41 -46.68 L 419.29 -46.55 L 422.17 -46.43 L 425.06 -46.32 L 427.94 -46.21 L 431.11 -46.1 L 434.29 -46 L 437.75 -45.9 L 440.92 -45.81 L 444.38 -45.72 L 447.84 -45.64 L 451.59 -45.56 L 455.33 -45.49 L 459.37 -45.42 L 463.41 -45.35 L 467.44 -45.3 L 471.77 -45.24 L 476.1 -45.19 L 480.71 -45.14 L 485.32 -45.1 L 490.22 -45.06 L 495.61 -45.03 L 495.61 -46.33 L 495.61 -46.33 L 490.22 -46.59 L 485.32 -46.86 L 480.71 -47.15 L 476.1 -47.48 L 471.77 -47.82 L 467.44 -48.21 L 463.41 -48.62 L 459.37 -49.06 L 455.33 -49.56 L 451.59 -50.07 L 447.84 -50.63 L 444.38 -51.19 L 440.92 -51.81 L 437.75 -52.42 L 434.29 -53.14 L 431.11 -53.86 L 427.94 -54.63 L 425.06 -55.38 L 422.17 -56.18 L 419.29 -57.02 L 416.41 -57.92 L 413.52 -58.86 L 410.64 -59.86 L 407.47 -61.01 L 402.28 -63 L 396.51 -65.36 L 391.32 -67.6 L 380.65 -72.3 L 375.75 -74.38 L 373.44 -75.31 L 371.14 -76.19 L 368.83 -77.03 L 366.81 -77.71 L 364.22 -78.5 L 361.91 -79.13 L 359.32 -79.74 L 357.01 -80.18 L 354.7 -80.52 L 352.4 -80.76 L 350.09 -80.9 L 347.78 -80.94 L 346.34 -80.91 L 344.9 -80.84 L 343.46 -80.73 L 342.01 -80.58 L 340.57 -80.4 L 339.13 -80.17 L 336.25 -79.63 L 333.08 -78.88 L 329.9 -77.99 L 326.44 -76.88 L 322.7 -75.56 L 322.41 -44.81 L 303.38 -44.81 z" style="stroke: #d95f02; stroke-opacity: 0.3"/>
</defs>
<g clip-path="url(#pce9f1de50f)">
<use href="#m91b9ffe3ab" x="0" y="952.46" style="fill: #d95f02; fill-opacity: 0.3; stroke: #d95f02; stroke-opacity: 0.3"/>
</g>
</g>
<g id="matplotlib.axis_33">
<g id="xtick_81">
<g id="line2d_200">
<g>
<use href="#m1504cfccaf" x="303.377" y="914.147" style="stroke: #000000; stroke-width: 0.8"/>
</g>
</g>
</g>
<g id="xtick_82">
<g id="line2d_201">
<g>
<use href="#m1504cfccaf" x="351.434" y="914.147" style="stroke: #000000; stroke-width: 0.8"/>
</g>
</g>
</g>
<g id="xtick_83">
<g id="line2d_202">
<g>
<use href="#m1504cfccaf" x="399.492" y="914.147" style="stroke: #000000; stroke-width: 0.8"/>
</g>
</g>
</g>
<g id="xtick_84">
<g id="line2d_203">
<g>
<use href="#m1504cfccaf" x="447.549" y="914.147" style="stroke: #000000; stroke-width: 0.8"/>
</g>
</g>
</g>
<g id="xtick_85">
<g id="line2d_204">
<g>
<use href="#m1504cfccaf" x="495.606" y="914.147" style="stroke: #000000; stroke-width: 0.8"/>
</g>
</g>
</g>
</g>
<g id="matplotlib.axis_34">
<g id="ytick_80">
<g id="line2d_205">
<g>
<use href="#m5d545ce8f8" x="298.715" y="907.651" style="stroke: #000000; stroke-width: 0.8"/>
</g>
</g>
</g>
<g id="ytick_81">
<g id="line2d_206">
<g>
<use href="#m5d545ce8f8" x="298.715" y="875.168" style="stroke: #000000; stroke-width: 0.8"/>
</g>
</g>
</g>
<g id="ytick_82">
<g id="line2d_207">
<g>
<use href="#m5d545ce8f8" x="298.715" y="842.686" style="stroke: #000000; stroke-width: 0.8"/>
</g>
</g>
</g>
<g id="ytick_83">
<g id="line2d_208">
<g>
<use href="#m5d545ce8f8" x="298.715" y="810.204" style="stroke: #000000; stroke-width: 0.8"/>
</g>
</g>
</g>
</g>
<g id="line2d_209">
<path d="M 322.41 907.65 L 322.7 907.65 L 326.44 907.65 L 329.9 907.65 L 333.08 907.65 L 336.25 907.65 L 339.13 907.65 L 340.57 907.65 L 342.01 907.65 L 343.46 907.65 L 344.9 907.65 L 346.34 907.65 L 346.63 885.04 L 347.78 884.74 L 350.09 884.16 L 352.4 883.63 L 353.26 883.44 L 354.7 883.14 L 356.43 882.81 L 357.01 882.7 L 359.32 882.32 L 361.91 881.96 L 362.2 881.93 L 364.22 881.71 L 364.79 881.66 L 366.81 881.51 L 367.68 881.47 L 368.83 881.42 L 370.27 881.39 L 371.14 881.39 L 372.58 881.4 L 373.44 881.43 L 374.89 881.49 L 375.75 881.55 L 377.19 881.66 L 379.79 881.93 L 380.65 882.04 L 382.09 882.24 L 384.69 882.68 L 387.29 883.19 L 390.17 883.84 L 391.32 884.12 L 392.19 884.34 L 394.49 884.95 L 396.51 885.52 L 399.68 886.45 L 402.28 887.25 L 404.3 887.88 L 407.47 888.9 L 410.64 889.92 L 413.52 890.85 L 414.39 891.13 L 416.41 891.77 L 418.71 892.5 L 419.29 892.67 L 422.17 893.55 L 423.62 893.98 L 425.06 894.4 L 427.94 895.22 L 431.11 896.09 L 433.13 896.62 L 434.29 896.91 L 437.75 897.75 L 438.03 897.82 L 440.92 898.48 L 442.94 898.92 L 444.38 899.23 L 447.84 899.92 L 448.13 899.98 L 451.59 900.62 L 453.32 900.92 L 455.33 901.26 L 458.79 901.8 L 459.37 901.89 L 463.41 902.46 L 464.27 902.58 L 467.44 902.99 L 470.04 903.29 L 471.77 903.49 L 476.1 903.95 L 480.71 904.38 L 482.15 904.5 L 485.32 904.76 L 488.78 905.02 L 490.22 905.12 L 495.61 905.47" clip-path="url(#pce9f1de50f)" style="fill: none; stroke: #e51881; stroke-width: 1.3; stroke-linecap: square"/>
</g>
<g id="line2d_210">
<path d="M 346.34 907.65 L 346.63 900.11 L 347.78 900.01 L 350.09 899.82 L 352.4 899.64 L 353.26 899.58 L 354.7 899.48 L 356.43 899.37 L 357.01 899.33 L 359.32 899.21 L 361.91 899.09 L 362.2 899.08 L 364.22 899 L 364.79 898.99 L 366.81 898.94 L 367.68 898.92 L 368.83 898.91 L 370.27 898.9 L 371.14 898.9 L 372.58 898.9 L 373.44 898.91 L 374.89 898.93 L 375.75 898.95 L 377.19 898.99 L 379.79 899.08 L 380.65 899.11 L 382.09 899.18 L 384.69 899.33 L 387.29 899.5 L 390.17 899.71 L 391.32 899.81 L 392.19 899.88 L 394.49 900.08 L 396.51 900.27 L 399.68 900.58 L 402.28 900.85 L 404.3 901.06 L 407.47 901.4 L 410.64 901.74 L 413.52 902.05 L 414.39 902.14 L 416.41 902.36 L 418.71 902.6 L 419.29 902.66 L 422.17 902.95 L 423.62 903.09 L 425.06 903.24 L 427.94 903.51 L 431.11 903.8 L 433.13 903.97 L 434.29 904.07 L 437.75 904.35 L 438.03 904.37 L 440.92 904.59 L 442.94 904.74 L 444.38 904.84 L 447.84 905.07 L 448.13 905.09 L 451.59 905.31 L 453.32 905.41 L 455.33 905.52 L 458.79 905.7 L 459.37 905.73 L 463.41 905.92 L 464.27 905.96 L 467.44 906.1 L 470.04 906.2 L 471.77 906.26 L 476.1 906.42 L 480.71 906.56 L 482.15 906.6 L 485.32 906.69 L 488.78 906.77 L 490.22 906.81 L 495.61 906.92" clip-path="url(#pce9f1de50f)" style="fill: none; stroke-dasharray: 5.55,2.4; stroke-dashoffset: 3.21334; stroke: #e51881; stroke-width: 1.3"/>
</g>
<g id="line2d_211">
<path d="M 322.41 907.65 L 322.7 889.2 L 326.44 888.41 L 329.9 887.74 L 333.08 887.21 L 336.25 886.76 L 339.13 886.43 L 340.57 886.3 L 342.01 886.19 L 343.46 886.1 L 344.9 886.03 L 346.34 885.99 L 347.78 885.97 L 350.09 885.99 L 352.4 886.08 L 354.7 886.22 L 357.01 886.43 L 359.32 886.69 L 361.91 887.06 L 364.22 887.43 L 366.81 887.91 L 368.83 888.32 L 371.14 888.82 L 373.44 889.35 L 375.75 889.91 L 380.65 891.16 L 391.32 893.98 L 396.51 895.32 L 402.28 896.74 L 407.47 897.93 L 410.64 898.62 L 413.52 899.22 L 416.41 899.78 L 419.29 900.32 L 422.17 900.83 L 425.06 901.31 L 427.94 901.76 L 431.11 902.22 L 434.29 902.65 L 437.75 903.08 L 440.92 903.45 L 444.38 903.82 L 447.84 904.16 L 451.59 904.49 L 455.33 904.8 L 459.37 905.1 L 463.41 905.37 L 467.44 905.61 L 471.77 905.84 L 476.1 906.05 L 480.71 906.25 L 485.32 906.42 L 490.22 906.58 L 495.61 906.74" clip-path="url(#pce9f1de50f)" style="fill: none; stroke: #09966c; stroke-width: 1.3; stroke-linecap: square"/>
</g>
<g id="line2d_212">
<path d="M 322.41 907.65 L 322.7 894.47 L 326.44 893.9 L 329.9 893.43 L 333.08 893.05 L 336.25 892.73 L 339.13 892.49 L 340.57 892.4 L 342.01 892.32 L 343.46 892.26 L 344.9 892.21 L 346.34 892.18 L 347.78 892.17 L 350.09 892.18 L 352.4 892.24 L 354.7 892.35 L 357.01 892.49 L 359.32 892.68 L 361.91 892.94 L 364.22 893.21 L 366.81 893.55 L 368.83 893.84 L 371.14 894.2 L 373.44 894.58 L 375.75 894.98 L 380.65 895.87 L 391.32 897.88 L 396.51 898.84 L 402.28 899.85 L 407.47 900.71 L 410.64 901.2 L 413.52 901.63 L 416.41 902.03 L 419.29 902.42 L 422.17 902.78 L 425.06 903.12 L 427.94 903.44 L 431.11 903.77 L 434.29 904.08 L 437.75 904.39 L 440.92 904.65 L 444.38 904.92 L 447.84 905.16 L 451.59 905.4 L 455.33 905.61 L 459.37 905.83 L 463.41 906.02 L 467.44 906.19 L 471.77 906.36 L 476.1 906.51 L 480.71 906.65 L 485.32 906.77 L 490.22 906.89 L 495.61 907" clip-path="url(#pce9f1de50f)" style="fill: none; stroke: #90409c; stroke-width: 1.3; stroke-linecap: square"/>
</g>
<g id="line2d_213">
<path d="M 322.41 907.65 L 322.7 906.33 L 326.44 906.28 L 329.9 906.23 L 333.08 906.19 L 336.25 906.16 L 339.13 906.13 L 340.57 906.13 L 342.01 906.12 L 343.46 906.11 L 344.9 906.11 L 346.34 906.1 L 347.78 906.1 L 350.09 906.1 L 352.4 906.11 L 354.7 906.12 L 357.01 906.13 L 359.32 906.15 L 361.91 906.18 L 364.22 906.21 L 366.81 906.24 L 368.83 906.27 L 371.14 906.31 L 373.44 906.34 L 375.75 906.38 L 380.65 906.47 L 391.32 906.67 L 396.51 906.77 L 402.28 906.87 L 407.47 906.96 L 410.64 907.01 L 413.52 907.05 L 416.41 907.09 L 419.29 907.13 L 422.17 907.16 L 425.06 907.2 L 427.94 907.23 L 431.11 907.26 L 434.29 907.29 L 437.75 907.32 L 440.92 907.35 L 444.38 907.38 L 447.84 907.4 L 451.59 907.43 L 455.33 907.45 L 459.37 907.47 L 463.41 907.49 L 467.44 907.5 L 471.77 907.52 L 476.1 907.54 L 480.71 907.55 L 485.32 907.56 L 490.22 907.57 L 495.61 907.59" clip-path="url(#pce9f1de50f)" style="fill: none; stroke-dasharray: 5.55,2.4; stroke-dashoffset: 3.130741; stroke: #90409c; stroke-width: 1.3"/>
</g>
<g id="line2d_214">
<path d="M 303.38 907.65 L 322.41 907.65 L 322.7 876.9 L 326.44 875.58 L 329.9 874.47 L 333.08 873.58 L 336.25 872.83 L 339.13 872.28 L 340.57 872.06 L 342.01 871.88 L 343.46 871.73 L 344.9 871.62 L 346.34 871.55 L 347.78 871.52 L 350.09 871.56 L 352.4 871.7 L 354.7 871.94 L 357.01 872.28 L 359.32 872.72 L 361.91 873.33 L 364.22 873.96 L 366.81 874.75 L 368.83 875.43 L 371.14 876.27 L 373.44 877.15 L 375.75 878.08 L 380.65 880.16 L 391.32 884.86 L 396.51 887.1 L 402.28 889.46 L 407.47 891.45 L 410.64 892.6 L 413.52 893.6 L 416.41 894.54 L 419.29 895.44 L 422.17 896.28 L 425.06 897.08 L 427.94 897.83 L 431.11 898.6 L 434.29 899.32 L 437.75 900.04 L 440.92 900.65 L 444.38 901.27 L 447.84 901.83 L 451.59 902.39 L 455.33 902.9 L 459.37 903.4 L 463.41 903.84 L 467.44 904.25 L 471.77 904.64 L 476.1 904.98 L 480.71 905.31 L 485.32 905.6 L 490.22 905.87 L 495.61 906.13" clip-path="url(#pce9f1de50f)" style="fill: none; stroke: #d65200; stroke-width: 1.3; stroke-linecap: square"/>
</g>
<g id="line2d_215">
<path d="M 322.41 907.65 L 322.7 903.26 L 326.44 903.07 L 329.9 902.91 L 333.08 902.78 L 336.25 902.68 L 339.13 902.6 L 340.57 902.57 L 342.01 902.54 L 343.46 902.52 L 344.9 902.5 L 346.34 902.49 L 347.78 902.49 L 350.09 902.49 L 352.4 902.51 L 354.7 902.55 L 357.01 902.6 L 359.32 902.66 L 361.91 902.75 L 364.22 902.84 L 366.81 902.95 L 368.83 903.05 L 371.14 903.17 L 373.44 903.29 L 375.75 903.43 L 380.65 903.72 L 391.32 904.4 L 396.51 904.71 L 402.28 905.05 L 407.47 905.34 L 410.64 905.5 L 413.52 905.64 L 416.41 905.78 L 419.29 905.91 L 422.17 906.03 L 425.06 906.14 L 427.94 906.25 L 431.11 906.36 L 434.29 906.46 L 437.75 906.56 L 440.92 906.65 L 444.38 906.74 L 447.84 906.82 L 451.59 906.9 L 455.33 906.97 L 459.37 907.04 L 463.41 907.11 L 467.44 907.16 L 471.77 907.22 L 476.1 907.27 L 480.71 907.32 L 485.32 907.36 L 490.22 907.4 L 495.61 907.43" clip-path="url(#pce9f1de50f)" style="fill: none; stroke-dasharray: 5.55,2.4; stroke-dashoffset: 3.130741; stroke: #d65200; stroke-width: 1.3"/>
</g>
<g id="patch_51">
<path d="M 298.72 914.15 L 298.72 810.2" style="fill: none; stroke: #000000; stroke-width: 0.8; stroke-linejoin: miter; stroke-linecap: square"/>
</g>
<g id="patch_52">
<path d="M 298.72 914.15 L 495.61 914.15" style="fill: none; stroke: #000000; stroke-width: 0.8; stroke-linejoin: miter; stroke-linecap: square"/>
</g>
</g>
<g id="axes_18">
<g id="patch_53">
<path d="M 535.12 914.15 L 732.01 914.15 L 732.01 810.2 L 535.12 810.2 L 535.12 914.15 z" style="fill: none"/>
</g>
<g id="FillBetweenPolyCollection_18">
<defs>
<path id="m1114404076" d="M 539.78 -126.01 L 539.78 -52.93 L 540.65 -52.92 L 541.8 -52.91 L 542.67 -52.89 L 543.82 -52.87 L 544.69 -52.84 L 545.84 -52.81 L 546.7 -52.78 L 547.86 -52.73 L 549.88 -52.64 L 551.89 -52.53 L 553.91 -52.41 L 556.22 -52.26 L 558.24 -52.11 L 560.26 -51.95 L 562.56 -51.76 L 564.87 -51.56 L 567.18 -51.35 L 569.77 -51.1 L 581.88 -49.93 L 585.05 -49.63 L 587.94 -49.36 L 591.4 -49.05 L 594.86 -48.75 L 598.03 -48.49 L 601.2 -48.24 L 604.95 -47.96 L 608.41 -47.71 L 610.14 -47.6 L 612.16 -47.47 L 613.89 -47.36 L 615.91 -47.24 L 617.64 -47.14 L 619.65 -47.02 L 621.67 -46.92 L 623.69 -46.81 L 627.44 -46.63 L 629.46 -46.54 L 631.48 -46.46 L 633.78 -46.36 L 636.09 -46.27 L 638.4 -46.19 L 640.99 -46.1 L 643.3 -46.02 L 645.89 -45.94 L 648.2 -45.87 L 650.8 -45.8 L 653.39 -45.73 L 655.99 -45.67 L 658.58 -45.61 L 661.18 -45.55 L 663.77 -45.5 L 666.65 -45.45 L 669.54 -45.4 L 672.42 -45.35 L 678.19 -45.27 L 684.53 -45.19 L 691.45 -45.12 L 698.66 -45.06 L 706.16 -45.01 L 714.23 -44.96 L 722.88 -44.92 L 732.01 -44.89 L 732.01 -45.66 L 732.01 -45.66 L 722.88 -45.96 L 714.23 -46.34 L 706.16 -46.79 L 698.66 -47.31 L 691.45 -47.91 L 684.53 -48.62 L 678.19 -49.39 L 672.42 -50.22 L 669.54 -50.69 L 666.65 -51.19 L 663.77 -51.73 L 661.18 -52.25 L 658.58 -52.81 L 655.99 -53.41 L 653.39 -54.05 L 650.8 -54.72 L 648.2 -55.45 L 645.89 -56.13 L 643.3 -56.93 L 640.99 -57.7 L 638.4 -58.6 L 636.09 -59.45 L 633.78 -60.34 L 631.48 -61.28 L 629.46 -62.15 L 627.44 -63.06 L 623.69 -64.85 L 621.67 -65.88 L 619.65 -66.96 L 617.64 -68.08 L 615.91 -69.08 L 613.89 -70.3 L 612.16 -71.38 L 610.14 -72.68 L 608.41 -73.84 L 604.95 -76.28 L 601.2 -79.08 L 598.03 -81.59 L 594.86 -84.22 L 591.4 -87.21 L 587.94 -90.32 L 585.05 -92.99 L 581.88 -96 L 569.77 -107.74 L 567.18 -110.18 L 564.87 -112.29 L 562.56 -114.31 L 560.26 -116.23 L 558.24 -117.82 L 556.22 -119.3 L 553.91 -120.84 L 551.89 -122.06 L 549.88 -123.13 L 547.86 -124.04 L 546.7 -124.49 L 545.84 -124.8 L 544.69 -125.15 L 543.82 -125.38 L 542.67 -125.63 L 541.8 -125.79 L 540.65 -125.94 L 539.78 -126.01 z" style="stroke: #984ea3; stroke-opacity: 0.3"/>
</defs>
<g clip-path="url(#p2af702db65)">
<use href="#m1114404076" x="0" y="952.46" style="fill: #984ea3; fill-opacity: 0.3; stroke: #984ea3; stroke-opacity: 0.3"/>
</g>
</g>
<g id="matplotlib.axis_35">
<g id="xtick_86">
<g id="line2d_216">
<g>
<use href="#m1504cfccaf" x="539.783" y="914.147" style="stroke: #000000; stroke-width: 0.8"/>
</g>
</g>
</g>
<g id="xtick_87">
<g id="line2d_217">
<g>
<use href="#m1504cfccaf" x="587.841" y="914.147" style="stroke: #000000; stroke-width: 0.8"/>
</g>
</g>
</g>
<g id="xtick_88">
<g id="line2d_218">
<g>
<use href="#m1504cfccaf" x="635.898" y="914.147" style="stroke: #000000; stroke-width: 0.8"/>
</g>
</g>
</g>
<g id="xtick_89">
<g id="line2d_219">
<g>
<use href="#m1504cfccaf" x="683.955" y="914.147" style="stroke: #000000; stroke-width: 0.8"/>
</g>
</g>
</g>
<g id="xtick_90">
<g id="line2d_220">
<g>
<use href="#m1504cfccaf" x="732.013" y="914.147" style="stroke: #000000; stroke-width: 0.8"/>
</g>
</g>
</g>
</g>
<g id="matplotlib.axis_36">
<g id="ytick_84">
<g id="line2d_221">
<g>
<use href="#m5d545ce8f8" x="535.122" y="907.651" style="stroke: #000000; stroke-width: 0.8"/>
</g>
</g>
</g>
<g id="ytick_85">
<g id="line2d_222">
<g>
<use href="#m5d545ce8f8" x="535.122" y="875.168" style="stroke: #000000; stroke-width: 0.8"/>
</g>
</g>
</g>
<g id="ytick_86">
<g id="line2d_223">
<g>
<use href="#m5d545ce8f8" x="535.122" y="842.686" style="stroke: #000000; stroke-width: 0.8"/>
</g>
</g>
</g>
<g id="ytick_87">
<g id="line2d_224">
<g>
<use href="#m5d545ce8f8" x="535.122" y="810.204" style="stroke: #000000; stroke-width: 0.8"/>
</g>
</g>
</g>
</g>
<g id="line2d_225">
<path d="M 539.78 826.44 L 540.65 826.52 L 541.8 826.67 L 542.67 826.83 L 543.82 827.08 L 544.69 827.31 L 545.84 827.66 L 546.7 827.97 L 547.86 828.42 L 549.88 829.33 L 551.89 830.4 L 553.91 831.62 L 556.22 833.16 L 558.24 834.64 L 560.26 836.23 L 562.56 838.15 L 564.87 840.17 L 567.18 842.28 L 569.77 844.72 L 581.88 856.46 L 585.05 859.47 L 587.94 862.14 L 591.4 865.25 L 594.86 868.24 L 598.03 870.87 L 601.2 873.38 L 604.95 876.18 L 608.41 878.62 L 610.14 879.78 L 612.16 881.08 L 613.89 882.16 L 615.91 883.38 L 617.64 884.38 L 619.65 885.5 L 621.67 886.58 L 623.69 887.61 L 627.44 889.4 L 629.46 890.31 L 631.48 891.18 L 633.78 892.12 L 636.09 893.01 L 638.4 893.86 L 640.99 894.76 L 643.3 895.52 L 645.89 896.33 L 648.2 897.01 L 650.8 897.74 L 653.39 898.41 L 655.99 899.05 L 658.58 899.65 L 661.18 900.21 L 663.77 900.73 L 666.65 901.27 L 669.54 901.77 L 672.42 902.24 L 678.19 903.07 L 684.53 903.84 L 691.45 904.55 L 698.66 905.15 L 706.16 905.67 L 714.23 906.12 L 722.88 906.5 L 732.01 906.8" clip-path="url(#p2af702db65)" style="fill: none; stroke: #90409c; stroke-width: 1.3; stroke-linecap: square"/>
</g>
<g id="line2d_226">
<path d="M 539.78 899.53 L 540.65 899.54 L 541.8 899.55 L 542.67 899.57 L 543.82 899.59 L 544.69 899.62 L 545.84 899.65 L 546.7 899.68 L 547.86 899.73 L 549.88 899.82 L 551.89 899.93 L 553.91 900.05 L 556.22 900.2 L 558.24 900.35 L 560.26 900.51 L 562.56 900.7 L 564.87 900.9 L 567.18 901.11 L 569.77 901.36 L 581.88 902.53 L 585.05 902.83 L 587.94 903.1 L 591.4 903.41 L 594.86 903.71 L 598.03 903.97 L 601.2 904.22 L 604.95 904.5 L 608.41 904.75 L 610.14 904.86 L 612.16 904.99 L 613.89 905.1 L 615.91 905.22 L 617.64 905.32 L 619.65 905.44 L 621.67 905.54 L 623.69 905.65 L 627.44 905.83 L 629.46 905.92 L 631.48 906 L 633.78 906.1 L 636.09 906.19 L 638.4 906.27 L 640.99 906.36 L 643.3 906.44 L 645.89 906.52 L 648.2 906.59 L 650.8 906.66 L 653.39 906.73 L 655.99 906.79 L 658.58 906.85 L 661.18 906.91 L 663.77 906.96 L 666.65 907.01 L 669.54 907.06 L 672.42 907.11 L 678.19 907.19 L 684.53 907.27 L 691.45 907.34 L 698.66 907.4 L 706.16 907.45 L 714.23 907.5 L 722.88 907.54 L 732.01 907.57" clip-path="url(#p2af702db65)" style="fill: none; stroke-dasharray: 5.55,2.4; stroke-dashoffset: 0; stroke: #90409c; stroke-width: 1.3"/>
</g>
<g id="patch_54">
<path d="M 535.12 914.15 L 535.12 810.2" style="fill: none; stroke: #000000; stroke-width: 0.8; stroke-linejoin: miter; stroke-linecap: square"/>
</g>
<g id="patch_55">
<path d="M 535.12 914.15 L 732.01 914.15" style="fill: none; stroke: #000000; stroke-width: 0.8; stroke-linejoin: miter; stroke-linecap: square"/>
</g>
</g>
</g>
<defs>
<clipPath id="p158fa50239">
<rect x="62.309" y="82.578" width="196.891" height="103.943"/>
</clipPath>
<clipPath id="pc451fa3d04">
<rect x="298.715" y="82.578" width="196.891" height="103.943"/>
</clipPath>
<clipPath id="p238a6cf841">
<rect x="535.122" y="82.578" width="196.891" height="103.943"/>
</clipPath>
<clipPath id="p7da8d2ac84">
<rect x="62.309" y="228.103" width="196.891" height="103.943"/>
</clipPath>
<clipPath id="p51598fc935">
<rect x="298.715" y="228.103" width="196.891" height="103.943"/>
</clipPath>
<clipPath id="p588491ed07">
<rect x="535.122" y="228.103" width="196.891" height="103.943"/>
</clipPath>
<clipPath id="p88c38da907">
<rect x="62.309" y="373.629" width="196.891" height="103.943"/>
</clipPath>
<clipPath id="pad8b018f4e">
<rect x="298.715" y="373.629" width="196.891" height="103.943"/>
</clipPath>
<clipPath id="pb0b2972590">
<rect x="535.122" y="373.629" width="196.891" height="103.943"/>
</clipPath>
<clipPath id="pf7be535a80">
<rect x="62.309" y="519.154" width="196.891" height="103.943"/>
</clipPath>
<clipPath id="p6e7e506e5d">
<rect x="298.715" y="519.154" width="196.891" height="103.943"/>
</clipPath>
<clipPath id="p72ff1b0832">
<rect x="535.122" y="519.154" width="196.891" height="103.943"/>
</clipPath>
<clipPath id="p9a7e799cbc">
<rect x="62.309" y="664.679" width="196.891" height="103.943"/>
</clipPath>
<clipPath id="pe841921045">
<rect x="298.715" y="664.679" width="196.891" height="103.943"/>
</clipPath>
<clipPath id="p63b910631b">
<rect x="535.122" y="664.679" width="196.891" height="103.943"/>
</clipPath>
<clipPath id="p3a686524f6">
<rect x="62.309" y="810.204" width="196.891" height="103.943"/>
</clipPath>
<clipPath id="pce9f1de50f">
<rect x="298.715" y="810.204" width="196.891" height="103.943"/>
</clipPath>
<clipPath id="p2af702db65">
<rect x="535.122" y="810.204" width="196.891" height="103.943"/>
</clipPath>
</defs>

</g>
<g id="legend">
<rect x="1241.7" y="840.3" width="266.1" height="106.1" rx="3.36" ry="3.36" fill="#ffffff" fill-opacity="0.8" stroke="#cccccc" stroke-width="1.35"/>
<rect x="1248.52" y="848.67" width="33.6" height="11.76" fill="#e7298a" stroke="#e7298a" stroke-width="1.2"/>
<text class="a" x="1295.46" y="861.33">Atlas</text>
<rect x="1248.52" y="874.07" width="33.6" height="11.76" fill="#1b9e77" stroke="#1b9e77" stroke-width="1.2"/>
<text class="a" x="1295.46" y="886.73">MLSS</text>
<rect x="1248.52" y="899.47" width="33.6" height="11.76" fill="#984ea3" stroke="#984ea3" stroke-width="1.2"/>
<text class="a" x="1295.46" y="912.13">Student Club</text>
<rect x="1248.52" y="924.87" width="33.6" height="11.76" fill="#d95f02" stroke="#d95f02" stroke-width="1.2"/>
<text class="a" x="1295.46" y="937.53">Undergraduate Stipends</text>
</g>
<g id="labels">
<text class="a e" x="92.61" y="312.68">0</text>
<text class="a e" x="92.61" y="272.99">500</text>
<text class="a e" x="92.61" y="233.31">1000</text>
<text class="a e" x="92.61" y="193.62">1500</text>
<text class="a e" x="92.61" y="153.94">2000</text>
<text class="a m" transform="translate(41.05 228.78) rotate(-90)">Hours</text>
<text class="b m" x="266.56" y="106.82">Pre-PhD students who</text>
<text class="b m" x="266.55" y="129.39">do PhDs</text>
<text class="b m" x="663.69" y="106.82">Pre-PhD students who</text>
<text class="b m" x="663.68" y="129.39">do not do PhDs</text>
<text class="b m" x="1064.41" y="129.64">PhD students</text>
<text class="a e" x="92.61" y="561.81">0.0</text>
<text class="a e" x="92.61" y="522.9">2.5</text>
<text class="a e" x="92.61" y="483.99">5.0</text>
<text class="a e" x="92.61" y="445.09">7.5</text>
<text class="a e" x="92.61" y="406.18">10.0</text>
<text class="a m" transform="translate(26.28 474.08) rotate(-90)">Research</text>
<text class="a m" transform="translate(45.09 474.08) rotate(-90)">relevance</text>
<text class="a e" x="92.61" y="807.48">0.00</text>
<text class="a e" x="92.61" y="766.32">0.25</text>
<text class="a e" x="92.61" y="725.17">0.50</text>
<text class="a e" x="92.61" y="684.02">0.75</text>
<text class="a e" x="92.61" y="642.86">1.00</text>
<text class="a m" transform="translate(47.04 717.85) rotate(-90)">Productivity</text>
<text class="a e" x="92.61" y="1046.06">0.00</text>
<text class="a e" x="92.61" y="1006.38">0.25</text>
<text class="a e" x="92.61" y="966.69">0.50</text>
<text class="a e" x="92.61" y="927.01">0.75</text>
<text class="a e" x="92.61" y="887.32">1.00</text>
<text class="a m" transform="translate(26.03 962.81) rotate(-90)">Probability of</text>
<text class="a m" transform="translate(44.84 962.81) rotate(-90)">staying in AI</text>
<text class="a e" x="92.61" y="1290.52">0.00</text>
<text class="a e" x="92.61" y="1250.84">0.25</text>
<text class="a e" x="92.61" y="1211.16">0.50</text>
<text class="a e" x="92.61" y="1171.47">0.75</text>
<text class="a e" x="92.61" y="1131.79">1.00</text>
<text class="a m" transform="translate(25.98 1207.27) rotate(-90)">Research time</text>
<text class="a m" transform="translate(44.79 1207.27) rotate(-90)">discount</text>
<text class="a m" x="112.5" y="1561.26">0</text>
<text class="a m" x="193.23" y="1561.26">5</text>
<text class="a m" x="273.96" y="1561.26">10</text>
<text class="a m" x="354.69" y="1561.26">15</text>
<text class="a m" x="435.42" y="1561.26">20</text>
<text class="a m" x="270.04" y="1584.94">Years since program start</text>
<text class="a e" x="92.61" y="1532.01">0</text>
<text class="a e" x="92.61" y="1477.44">1</text>
<text class="a e" x="92.61" y="1422.88">2</text>
<text class="a e" x="92.61" y="1368.31">3</text>
<text class="a m" transform="translate(72.61 1449.83) rotate(-90)">QARYs</text>
<text class="a m" x="509.63" y="1561.26">0</text>
<text class="a m" x="590.36" y="1561.26">5</text>
<text class="a m" x="671.09" y="1561.26">10</text>
<text class="a m" x="751.82" y="1561.26">15</text>
<text class="a m" x="832.55" y="1561.26">20</text>
<text class="a m" x="667.17" y="1584.94">Years since program start</text>
<text class="a m" x="906.76" y="1561.26">0</text>
<text class="a m" x="987.49" y="1561.26">5</text>
<text class="a m" x="1068.22" y="1561.26">10</text>
<text class="a m" x="1148.95" y="1561.26">15</text>
<text class="a m" x="1229.68" y="1561.26">20</text>
<text class="a m" x="1064.3" y="1584.94">Years since program start</text>
<text class="c m" x="648.5" y="29.75">QARYs per scientist-equivalent participant over time</text>
<text class="b i m" x="649" y="63">And component functions</text>
</g>
</svg>
</body>
</html>
